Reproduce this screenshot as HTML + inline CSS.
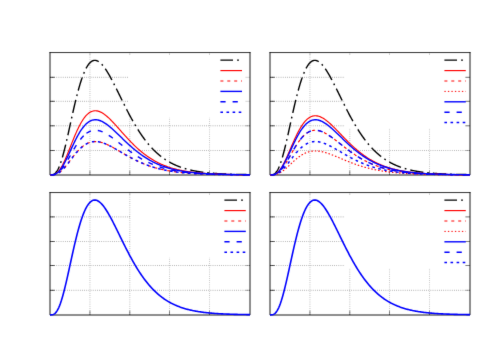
<!DOCTYPE html>
<html><head><meta charset="utf-8"><title>plot</title>
<style>html,body{margin:0;padding:0;background:#fff;font-family:"Liberation Sans",sans-serif}svg{display:block}</style>
</head><body>
<svg width="500" height="350" viewBox="0 0 500 350">
<defs><filter id="b" x="0" y="0" width="500" height="350" filterUnits="userSpaceOnUse" color-interpolation-filters="sRGB"><feConvolveMatrix order="3" kernelMatrix="0.0064 0.0672 0.0064 0.0672 0.7056 0.0672 0.0064 0.0672 0.0064" edgeMode="duplicate" preserveAlpha="true"/></filter></defs>
<g filter="url(#b)">
<rect width="500" height="350" fill="#fff"/>
<g><line x1="89.95" y1="52.5" x2="89.95" y2="175.0" stroke="#000" stroke-width="0.72" stroke-dasharray="0.72 1.42" opacity="0.46"/>
<line x1="129.80" y1="52.5" x2="129.80" y2="175.0" stroke="#000" stroke-width="0.72" stroke-dasharray="0.72 1.42" opacity="0.46"/>
<line x1="169.40" y1="52.5" x2="169.40" y2="175.0" stroke="#000" stroke-width="0.72" stroke-dasharray="0.72 1.42" opacity="0.46"/>
<line x1="209.40" y1="52.5" x2="209.40" y2="175.0" stroke="#000" stroke-width="0.72" stroke-dasharray="0.72 1.42" opacity="0.46"/>
<line x1="50.0" y1="150.40" x2="250.0" y2="150.40" stroke="#000" stroke-width="0.72" stroke-dasharray="0.72 1.42" opacity="0.58"/>
<line x1="50.0" y1="125.80" x2="250.0" y2="125.80" stroke="#000" stroke-width="0.72" stroke-dasharray="0.72 1.42" opacity="0.58"/>
<line x1="50.0" y1="101.30" x2="250.0" y2="101.30" stroke="#000" stroke-width="0.72" stroke-dasharray="0.72 1.42" opacity="0.58"/>
<line x1="50.0" y1="77.30" x2="250.0" y2="77.30" stroke="#000" stroke-width="0.72" stroke-dasharray="0.72 1.42" opacity="0.58"/>
<rect x="128.0" y="52.5" width="122.00" height="65.10" fill="#fff"/>
<line x1="89.95" y1="175.0" x2="89.95" y2="170.7" stroke="#000" stroke-width="0.8" opacity="0.6"/>
<line x1="89.95" y1="53.4" x2="89.95" y2="54.8" stroke="#000" stroke-width="0.8" opacity="0.35"/>
<line x1="129.80" y1="175.0" x2="129.80" y2="170.7" stroke="#000" stroke-width="0.8" opacity="0.6"/>
<line x1="129.80" y1="53.4" x2="129.80" y2="54.8" stroke="#000" stroke-width="0.8" opacity="0.35"/>
<line x1="169.40" y1="175.0" x2="169.40" y2="170.7" stroke="#000" stroke-width="0.8" opacity="0.6"/>
<line x1="169.40" y1="53.4" x2="169.40" y2="54.8" stroke="#000" stroke-width="0.8" opacity="0.35"/>
<line x1="209.40" y1="175.0" x2="209.40" y2="170.7" stroke="#000" stroke-width="0.8" opacity="0.6"/>
<line x1="209.40" y1="53.4" x2="209.40" y2="54.8" stroke="#000" stroke-width="0.8" opacity="0.35"/>
<line x1="50.0" y1="150.40" x2="54.6" y2="150.40" stroke="#000" stroke-width="0.8" opacity="0.9"/>
<line x1="250.0" y1="150.40" x2="245.4" y2="150.40" stroke="#000" stroke-width="0.8" opacity="0.4"/>
<line x1="50.0" y1="125.80" x2="54.6" y2="125.80" stroke="#000" stroke-width="0.8" opacity="0.9"/>
<line x1="250.0" y1="125.80" x2="245.4" y2="125.80" stroke="#000" stroke-width="0.8" opacity="0.4"/>
<line x1="50.0" y1="101.30" x2="54.6" y2="101.30" stroke="#000" stroke-width="0.8" opacity="0.9"/>
<line x1="250.0" y1="101.30" x2="245.4" y2="101.30" stroke="#000" stroke-width="0.8" opacity="0.21"/>
<line x1="50.0" y1="77.30" x2="54.6" y2="77.30" stroke="#000" stroke-width="0.8" opacity="0.9"/>
<line x1="250.0" y1="77.30" x2="245.4" y2="77.30" stroke="#000" stroke-width="0.8" opacity="0.21"/>
<path d="M50.0,52.15V175.0H250.0V52.15" fill="none" stroke="#000" stroke-width="0.9"/>
<line x1="49.5" y1="52.55" x2="250.5" y2="52.55" stroke="#000" stroke-width="0.8"/>
<path d="M50.25,174.85L50.28,174.85L50.68,174.85L51.08,174.84L51.48,174.82L51.88,174.79L52.28,174.73L52.68,174.65L53.08,174.54L53.48,174.39L53.88,174.2L54.28,173.97L54.68,173.69L55.08,173.36L55.48,172.98L55.88,172.55L56.28,172.06L56.68,171.51L57.08,170.9L57.48,170.24L57.88,169.51L58.28,168.73L58.68,167.88L59.08,166.97L59.24,166.59M60.65,162.85L60.65,162.85L61.05,161.66L61.19,161.24M62.36,157.41L62.38,157.37L62.78,155.97L63.18,154.53L63.58,153.04L63.98,151.52L64.38,149.96L64.78,148.36L65.18,146.74L65.58,145.08L65.68,144.64M66.59,140.74L66.6,140.71L66.97,139.09M67.85,135.19L67.88,135.09L68.28,133.3L68.68,131.49L69.08,129.68L69.48,127.86L69.88,126.03L70.28,124.21L70.68,122.38L70.69,122.3M71.55,118.39L71.58,118.29L71.92,116.73M72.79,112.82L72.8,112.78L73.2,111.01L73.6,109.25L74,107.51L74.4,105.78L74.8,104.08L75.2,102.39L75.6,100.73L75.81,99.87M76.78,95.99L76.8,95.9L77.2,94.34M78.22,90.48L78.23,90.47L78.63,89.02L79.03,87.6L79.43,86.21L79.83,84.86L80.23,83.54L80.63,82.25L81.03,81L81.43,79.79L81.83,78.61L82.23,77.46L82.25,77.39M83.67,73.65L83.68,73.63L84.08,72.66L84.32,72.08M86.03,68.46L86.05,68.43L86.45,67.68L86.85,66.98L87.25,66.31L87.65,65.68L88.05,65.08L88.45,64.52L88.85,64L89.25,63.52L89.65,63.07L90.05,62.66L90.45,62.28L90.85,61.94L91.25,61.63L91.65,61.36L92.05,61.12L92.45,60.91L92.85,60.74L93.25,60.6L93.65,60.49L94.05,60.41L94.45,60.37L94.85,60.35L95.25,60.36L95.65,60.41L96.05,60.48L96.45,60.58L96.85,60.71L97.25,60.86L97.65,61.04L98.05,61.25L98.45,61.48L98.72,61.65M101.74,64.27L101.75,64.28L102.15,64.72L102.55,65.18L102.86,65.55M105.26,68.74L105.28,68.76L105.68,69.34L106.08,69.95L106.48,70.56L106.88,71.19L107.28,71.83L107.68,72.49L108.08,73.15L108.48,73.83L108.88,74.51L109.28,75.21L109.68,75.92L110.08,76.63L110.48,77.36L110.88,78.09L111.28,78.83L111.68,79.58L111.91,80.02M113.75,83.57L113.78,83.61L114.18,84.4L114.52,85.09M116.32,88.66L116.33,88.68L116.73,89.49L117.13,90.3L117.53,91.11L117.93,91.92L118.33,92.73L118.73,93.55L119.13,94.36L119.53,95.18L119.93,95.99L120.33,96.81L120.73,97.62L121.13,98.44L121.53,99.25L121.93,100.06L122.15,100.51M123.92,104.09L123.93,104.09L124.33,104.89L124.69,105.61M126.49,109.18L126.5,109.19L126.9,109.97L127.3,110.74L127.7,111.52L128.1,112.28L128.5,113.05L128.9,113.8L129.3,114.56L129.7,115.31L130.1,116.05L130.5,116.8L130.9,117.53L131.3,118.26L131.7,118.99L132.1,119.71L132.5,120.42L132.87,121.08M134.87,124.54L134.88,124.56L135.28,125.23L135.68,125.91L135.73,126M137.82,129.41L137.83,129.41L138.23,130.05L138.63,130.68L139.03,131.3L139.43,131.91L139.83,132.52L140.23,133.13L140.63,133.72L141.03,134.31L141.43,134.9L141.83,135.48L142.23,136.05L142.63,136.62L143.03,137.18L143.43,137.73L143.83,138.28L144.23,138.82L144.63,139.36L145.03,139.89L145.38,140.35M147.87,143.49L147.88,143.5L148.28,143.98L148.68,144.45L148.96,144.79M151.62,147.78L151.63,147.79L152.03,148.21L152.43,148.64L152.83,149.05L153.23,149.47L153.63,149.87L154.03,150.27L154.43,150.67L154.83,151.06L155.23,151.44L155.63,151.82L156.03,152.2L156.43,152.57L156.83,152.93L157.23,153.29L157.63,153.65L158.03,153.99L158.43,154.34L158.83,154.68L159.23,155.01L159.63,155.34L160.03,155.67L160.43,155.99L160.83,156.31L161.17,156.57M164.4,158.93L164.4,158.93L164.8,159.21L165.2,159.47L165.6,159.74L165.81,159.88M169.23,161.96L169.25,161.97L169.65,162.2L170.05,162.42L170.45,162.64L170.85,162.86L171.25,163.07L171.65,163.28L172.05,163.48L172.45,163.68L172.85,163.88L173.25,164.08L173.65,164.27L174.05,164.46L174.45,164.65L174.85,164.83L175.25,165.01L175.65,165.19L176.05,165.36L176.45,165.53L176.85,165.7L177.25,165.87L177.65,166.03L178.05,166.19L178.45,166.35L178.85,166.51L179.25,166.66L179.65,166.81L180.05,166.96L180.45,167.1L180.85,167.24L180.96,167.28M184.76,168.52L184.78,168.52L185.18,168.64L185.58,168.75L185.98,168.87L186.38,168.98L186.4,168.99M190.27,169.98L190.28,169.98L190.68,170.07L191.08,170.16L191.48,170.25L191.88,170.34L192.28,170.42L192.68,170.51L193.08,170.59L193.48,170.67L193.88,170.75L194.28,170.83L194.68,170.91L195.08,170.98L195.48,171.06L195.88,171.13L196.28,171.2L196.68,171.27L197.08,171.34L197.48,171.41L197.88,171.48L198.28,171.54L198.68,171.61L199.08,171.67L199.48,171.73L199.88,171.79L200.28,171.85L200.68,171.91L201.08,171.97L201.48,172.03L201.88,172.08L202.28,172.14L202.68,172.19L203.08,172.24L203.27,172.27M207.24,172.73L207.25,172.73L207.65,172.77L208.05,172.82L208.45,172.86L208.85,172.9L208.93,172.9M212.91,173.26L212.93,173.26L213.33,173.29L213.73,173.32L214.13,173.35L214.53,173.38L214.93,173.41L215.33,173.44L215.73,173.47L216.13,173.5L216.53,173.53L216.93,173.55L217.33,173.58L217.73,173.61L218.13,173.63L218.53,173.66L218.93,173.68L219.33,173.7L219.73,173.73L220.13,173.75L220.53,173.77L220.93,173.79L221.33,173.82L221.73,173.84L222.13,173.86L222.53,173.88L222.93,173.9L223.33,173.92L223.73,173.94L224.13,173.96L224.53,173.97L224.93,173.99L225.33,174.01L225.73,174.03L226.09,174.04M230.09,174.2L230.1,174.2L230.5,174.21L230.9,174.22L231.3,174.24L231.7,174.25L231.79,174.25M235.78,174.37L235.8,174.37L236.2,174.38L236.6,174.39L237,174.4L237.4,174.4L237.8,174.41L238.2,174.42L238.6,174.43L239,174.44L239.4,174.45L239.8,174.46L240.2,174.47L240.6,174.47L241,174.48L241.4,174.49L241.8,174.5L242.2,174.51L242.6,174.51L243,174.52L243.4,174.53L243.8,174.53L244.2,174.54L244.6,174.55L245,174.55L245.4,174.56L245.8,174.57L246.2,174.57L246.6,174.58L247,174.58L247.4,174.59L247.8,174.59L248.2,174.6L248.6,174.61L248.98,174.61" fill="none" stroke="#000" stroke-width="1.4" stroke-linejoin="round"/>
<path d="M50,174.85L50.8,174.85L51.6,174.83L52.4,174.77L53.2,174.66L54,174.46L54.8,174.17L55.6,173.77L56.4,173.24L57.2,172.59L58,171.81L58.8,170.9L59.6,169.86L60.4,168.69L61.2,167.4L62,165.99L62.8,164.48L63.6,162.87L64.4,161.17L65.2,159.4L66,157.55L66.8,155.65L67.6,153.71L68.4,151.73L69.2,149.72L70,147.7L70.8,145.68L71.6,143.66L72.4,141.66L73.2,139.67L74,137.72L74.8,135.81L75.6,133.94L76.4,132.12L77.2,130.36L78,128.65L78.8,127.02L79.6,125.45L80.4,123.96L81.2,122.54L82,121.2L82.8,119.94L83.6,118.76L84.4,117.66L85.2,116.65L86,115.71L86.8,114.87L87.6,114.1L88.4,113.42L89.2,112.82L90,112.3L90.8,111.86L91.6,111.49L92.4,111.2L93.2,110.98L94,110.84L94.8,110.76L95.6,110.75L96.4,110.81L97.2,110.93L98,111.11L98.8,111.34L99.6,111.63L100.4,111.97L101.2,112.36L102,112.8L102.8,113.28L103.6,113.8L104.4,114.37L105.2,114.97L106,115.6L106.8,116.27L107.6,116.96L108.4,117.69L109.2,118.43L110,119.2L110.8,120L111.6,120.81L112.4,121.64L113.2,122.48L114,123.33L114.8,124.2L115.6,125.08L116.4,125.96L117.2,126.85L118,127.75L118.8,128.65L119.6,129.55L120.4,130.46L121.2,131.36L122,132.26L122.8,133.16L123.6,134.06L124.4,134.95L125.2,135.84L126,136.72L126.8,137.59L127.6,138.46L128.4,139.32L129.2,140.17L130,141.01L130.8,141.84L131.6,142.66L132.4,143.47L133.2,144.26L134,145.05L134.8,145.82L135.6,146.59L136.4,147.34L137.2,148.07L138,148.8L138.8,149.51L139.6,150.2L140.4,150.89L141.2,151.56L142,152.22L142.8,152.86L143.6,153.49L144.4,154.11L145.2,154.71L146,155.3L146.8,155.88L147.6,156.45L148.4,157L149.2,157.53L150,158.06L150.8,158.57L151.6,159.07L152.4,159.56L153.2,160.04L154,160.5L154.8,160.95L155.6,161.39L156.4,161.82L157.2,162.23L158,162.64L158.8,163.03L159.6,163.42L160.4,163.79L161.2,164.15L162,164.5L162.8,164.84L163.6,165.18L164.4,165.5L165.2,165.81L166,166.12L166.8,166.41L167.6,166.7L168.4,166.97L169.2,167.24L170,167.5L170.8,167.76L171.6,168L172.4,168.24L173.2,168.47L174,168.69L174.8,168.91L175.6,169.12L176.4,169.32L177.2,169.52L178,169.7L178.8,169.89L179.6,170.07L180.4,170.24L181.2,170.4L182,170.56L182.8,170.72L183.6,170.87L184.4,171.01L185.2,171.15L186,171.29L186.8,171.42L187.6,171.54L188.4,171.67L189.2,171.78L190,171.9L190.8,172.01L191.6,172.11L192.4,172.22L193.2,172.31L194,172.41L194.8,172.5L195.6,172.59L196.4,172.67L197.2,172.76L198,172.84L198.8,172.91L199.6,172.99L200.4,173.06L201.2,173.13L202,173.19L202.8,173.26L203.6,173.32L204.4,173.38L205.2,173.43L206,173.49L206.8,173.54L207.6,173.59L208.4,173.64L209.2,173.69L210,173.73L210.8,173.78L211.6,173.82L212.4,173.86L213.2,173.9L214,173.94L214.8,173.97L215.6,174.01L216.4,174.04L217.2,174.07L218,174.1L218.8,174.13L219.6,174.16L220.4,174.19L221.2,174.22L222,174.24L222.8,174.26L223.6,174.29L224.4,174.31L225.2,174.33L226,174.35L226.8,174.37L227.6,174.39L228.4,174.41L229.2,174.43L230,174.45L230.8,174.46L231.6,174.48L232.4,174.49L233.2,174.51L234,174.52L234.8,174.54L235.6,174.55L236.4,174.56L237.2,174.57L238,174.58L238.8,174.59L239.6,174.61L240.4,174.62L241.2,174.63L242,174.63L242.8,174.64L243.6,174.65L244.4,174.66L245.2,174.67L246,174.68L246.8,174.68L247.6,174.69L248.4,174.7L249.2,174.7L250,174.71" fill="none" stroke="#f00" stroke-width="1.15" stroke-linejoin="round"/>
<path d="M53,174.77L53,174.77L53.4,174.73L53.8,174.68L54.2,174.61L54.6,174.54L55,174.45L55.4,174.34L55.8,174.22L55.93,174.18M59.22,172.52L59.23,172.52L59.63,172.24L60.03,171.94L60.43,171.63L60.83,171.3L61.23,170.96L61.57,170.65M64.16,168.01L64.18,168L64.58,167.55L64.98,167.08L65.38,166.61L65.78,166.14L66.11,165.73M68.41,162.83L68.43,162.8L68.83,162.29L69.23,161.76L69.63,161.24L70.03,160.71L70.23,160.45M72.48,157.51L72.5,157.48L72.9,156.96L73.3,156.45L73.7,155.94L74.1,155.44L74.33,155.15M76.7,152.31L76.7,152.3L77.1,151.85L77.5,151.4L77.9,150.96L78.3,150.53L78.7,150.11L78.72,150.09M81.38,147.52L81.4,147.5L81.8,147.15L82.2,146.81L82.6,146.48L83,146.17L83.4,145.86L83.71,145.63M86.84,143.67L86.85,143.66L87.25,143.46L87.65,143.27L88.05,143.09L88.45,142.92L88.85,142.76L89.25,142.61L89.59,142.49M93.2,141.67L93.2,141.67L93.6,141.63L94,141.6L94.4,141.57L94.8,141.56L95.2,141.55L95.6,141.55L96,141.56L96.19,141.57M99.85,142.06L99.88,142.06L100.28,142.15L100.68,142.25L101.08,142.35L101.48,142.46L101.88,142.58L102.28,142.7L102.68,142.82L102.75,142.85M106.21,144.16L106.23,144.17L106.63,144.34L107.03,144.52L107.43,144.7L107.83,144.88L108.23,145.07L108.63,145.26L108.93,145.41M112.22,147.11L112.23,147.11L112.63,147.33L113.03,147.55L113.43,147.77L113.83,147.99L114.23,148.21L114.63,148.44L114.84,148.56M118.05,150.41L118.05,150.41L118.45,150.65L118.85,150.88L119.25,151.11L119.65,151.35L120.05,151.58L120.45,151.82L120.64,151.93M123.83,153.79L123.85,153.8L124.25,154.04L124.65,154.27L125.05,154.5L125.45,154.73L125.85,154.96L126.25,155.18L126.43,155.29M129.67,157.09L129.68,157.09L130.08,157.31L130.48,157.53L130.88,157.74L131.28,157.95L131.68,158.17L132.08,158.38L132.31,158.5M135.61,160.17L135.63,160.18L136.03,160.37L136.43,160.57L136.83,160.76L137.23,160.95L137.63,161.14L138.03,161.33L138.32,161.46M141.7,162.97L141.73,162.98L142.13,163.14L142.53,163.31L142.93,163.48L143.33,163.64L143.73,163.8L144.13,163.97L144.48,164.11M147.94,165.41L147.95,165.41L148.35,165.56L148.75,165.7L149.15,165.84L149.55,165.97L149.95,166.11L150.35,166.24L150.75,166.38L150.78,166.39M154.31,167.49L154.33,167.49L154.73,167.61L155.13,167.72L155.53,167.84L155.93,167.95L156.33,168.06L156.73,168.17L157.13,168.28L157.2,168.29M160.79,169.19L160.8,169.2L161.2,169.29L161.6,169.38L162,169.47L162.4,169.56L162.8,169.65L163.2,169.74L163.6,169.82L163.71,169.85M167.34,170.57L167.35,170.57L167.75,170.64L168.15,170.71L168.55,170.79L168.95,170.86L169.35,170.92L169.75,170.99L170.15,171.06L170.3,171.08M173.96,171.64L173.98,171.65L174.38,171.7L174.78,171.76L175.18,171.81L175.58,171.87L175.98,171.92L176.38,171.97L176.78,172.02L176.93,172.04M180.6,172.48L180.63,172.48L181.03,172.52L181.43,172.56L181.83,172.6L182.23,172.65L182.63,172.69L183.03,172.73L183.43,172.76L183.59,172.78M187.27,173.11L187.28,173.11L187.68,173.14L188.08,173.17L188.48,173.2L188.88,173.23L189.28,173.26L189.68,173.29L190.08,173.32L190.26,173.34M193.96,173.58L193.98,173.58L194.38,173.6L194.78,173.63L195.18,173.65L195.58,173.67L195.98,173.7L196.38,173.72L196.78,173.74L196.95,173.75M200.65,173.93L200.65,173.93L201.05,173.95L201.45,173.97L201.85,173.98L202.25,174L202.65,174.02L203.05,174.03L203.45,174.05L203.64,174.06M207.34,174.19L207.35,174.19L207.75,174.2L208.15,174.21L208.55,174.23L208.95,174.24L209.35,174.25L209.75,174.26L210.15,174.27L210.34,174.28M214.04,174.38L214.05,174.38L214.45,174.39L214.85,174.39L215.25,174.4L215.65,174.41L216.05,174.42L216.45,174.43L216.85,174.44L217.04,174.44M220.74,174.51L220.75,174.51L221.15,174.52L221.55,174.53L221.95,174.53L222.35,174.54L222.75,174.55L223.15,174.55L223.55,174.56L223.74,174.56M227.44,174.61L227.45,174.61L227.85,174.62L228.25,174.62L228.65,174.62L229.05,174.63L229.45,174.63L229.85,174.64L230.25,174.64L230.44,174.64M234.14,174.68L234.15,174.68L234.55,174.68L234.95,174.69L235.35,174.69L235.75,174.69L236.15,174.7L236.55,174.7L236.95,174.7L237.14,174.71M240.84,174.73L240.85,174.73L241.25,174.73L241.65,174.74L242.05,174.74L242.45,174.74L242.85,174.74L243.25,174.75L243.65,174.75L243.84,174.75M247.54,174.77L247.55,174.77L247.95,174.77L248.35,174.77L248.75,174.77L249.15,174.77L249.55,174.77L249.95,174.78L250,174.78" fill="none" stroke="#f00" stroke-width="1.15" stroke-linejoin="round"/>
<path d="M50,174.85L50.8,174.85L51.6,174.83L52.4,174.78L53.2,174.68L54,174.52L54.8,174.27L55.6,173.92L56.4,173.48L57.2,172.92L58,172.25L58.8,171.47L59.6,170.58L60.4,169.58L61.2,168.48L62,167.27L62.8,165.98L63.6,164.6L64.4,163.14L65.2,161.62L66,160.04L66.8,158.42L67.6,156.75L68.4,155.05L69.2,153.33L70,151.6L70.8,149.86L71.6,148.13L72.4,146.41L73.2,144.71L74,143.03L74.8,141.39L75.6,139.78L76.4,138.22L77.2,136.7L78,135.24L78.8,133.83L79.6,132.48L80.4,131.2L81.2,129.97L82,128.82L82.8,127.73L83.6,126.71L84.4,125.77L85.2,124.89L86,124.09L86.8,123.35L87.6,122.69L88.4,122.1L89.2,121.58L90,121.12L90.8,120.74L91.6,120.42L92.4,120.16L93.2,119.97L94,119.84L94.8,119.77L95.6,119.75L96.4,119.79L97.2,119.89L98,120.03L98.8,120.23L99.6,120.47L100.4,120.76L101.2,121.09L102,121.46L102.8,121.87L103.6,122.31L104.4,122.79L105.2,123.3L106,123.84L106.8,124.41L107.6,125L108.4,125.62L109.2,126.26L110,126.92L110.8,127.6L111.6,128.29L112.4,129L113.2,129.72L114,130.45L114.8,131.19L115.6,131.94L116.4,132.7L117.2,133.47L118,134.24L118.8,135.01L119.6,135.78L120.4,136.56L121.2,137.33L122,138.11L122.8,138.88L123.6,139.65L124.4,140.42L125.2,141.18L126,141.93L126.8,142.68L127.6,143.43L128.4,144.17L129.2,144.9L130,145.62L130.8,146.33L131.6,147.04L132.4,147.73L133.2,148.42L134,149.1L134.8,149.76L135.6,150.42L136.4,151.06L137.2,151.7L138,152.32L138.8,152.93L139.6,153.53L140.4,154.12L141.2,154.7L142,155.27L142.8,155.82L143.6,156.37L144.4,156.9L145.2,157.42L146,157.93L146.8,158.43L147.6,158.91L148.4,159.39L149.2,159.85L150,160.31L150.8,160.75L151.6,161.18L152.4,161.6L153.2,162.01L154,162.41L154.8,162.8L155.6,163.18L156.4,163.55L157.2,163.91L158,164.26L158.8,164.6L159.6,164.93L160.4,165.26L161.2,165.57L162,165.87L162.8,166.17L163.6,166.46L164.4,166.74L165.2,167.01L166,167.27L166.8,167.52L167.6,167.77L168.4,168.01L169.2,168.24L170,168.47L170.8,168.69L171.6,168.9L172.4,169.11L173.2,169.31L174,169.5L174.8,169.69L175.6,169.87L176.4,170.04L177.2,170.21L178,170.38L178.8,170.54L179.6,170.69L180.4,170.84L181.2,170.98L182,171.12L182.8,171.26L183.6,171.39L184.4,171.51L185.2,171.63L186,171.75L186.8,171.86L187.6,171.97L188.4,172.08L189.2,172.18L190,172.28L190.8,172.37L191.6,172.47L192.4,172.55L193.2,172.64L194,172.72L194.8,172.8L195.6,172.88L196.4,172.95L197.2,173.03L198,173.09L198.8,173.16L199.6,173.23L200.4,173.29L201.2,173.35L202,173.4L202.8,173.46L203.6,173.51L204.4,173.56L205.2,173.61L206,173.66L206.8,173.71L207.6,173.75L208.4,173.79L209.2,173.84L210,173.87L210.8,173.91L211.6,173.95L212.4,173.98L213.2,174.02L214,174.05L214.8,174.08L215.6,174.11L216.4,174.14L217.2,174.17L218,174.2L218.8,174.22L219.6,174.25L220.4,174.27L221.2,174.29L222,174.32L222.8,174.34L223.6,174.36L224.4,174.38L225.2,174.4L226,174.42L226.8,174.43L227.6,174.45L228.4,174.47L229.2,174.48L230,174.5L230.8,174.51L231.6,174.52L232.4,174.54L233.2,174.55L234,174.56L234.8,174.57L235.6,174.59L236.4,174.6L237.2,174.61L238,174.62L238.8,174.63L239.6,174.64L240.4,174.64L241.2,174.65L242,174.66L242.8,174.67L243.6,174.68L244.4,174.68L245.2,174.69L246,174.7L246.8,174.7L247.6,174.71L248.4,174.72L249.2,174.72L250,174.73" fill="none" stroke="#00f" stroke-width="1.4" stroke-linejoin="round"/>
<path d="M51.1,174.85L51.1,174.85L51.5,174.84L51.9,174.83L52.3,174.8L52.7,174.77L53.1,174.73L53.5,174.67L53.9,174.6L54.3,174.51L54.7,174.4L55.1,174.28L55.5,174.13L55.9,173.97L55.98,173.93M61.26,169.59L61.28,169.58L61.68,169.09L62.08,168.59L62.48,168.07L62.88,167.53L63.28,166.98L63.68,166.41L64.08,165.82L64.24,165.57M67.86,159.7L67.88,159.67L68.28,158.98L68.68,158.28L69.08,157.58L69.48,156.88L69.88,156.18L70.28,155.48L70.34,155.36M73.78,149.38L73.8,149.35L74.2,148.68L74.6,148.02L75,147.36L75.4,146.71L75.8,146.06L76.2,145.43L76.4,145.12M80.37,139.48L80.38,139.47L80.78,138.97L81.18,138.48L81.58,138.01L81.98,137.55L82.38,137.1L82.78,136.67L83.18,136.25L83.58,135.85L83.68,135.74M86.49,133.34L86.5,133.33L86.9,133.05L87.3,132.78L87.7,132.52L88.1,132.28L88.5,132.05L88.9,131.84L89.3,131.64L89.7,131.46L90.1,131.29L90.5,131.13L90.88,130.99M97.82,130.47L97.83,130.47L98.23,130.54L98.63,130.62L99.03,130.71L99.43,130.81L99.83,130.92L100.23,131.04L100.63,131.17L101.03,131.31L101.43,131.45L101.83,131.61L102.23,131.77L102.59,131.92M108.75,135.3L108.75,135.3L109.15,135.56L109.55,135.83L109.95,136.1L110.35,136.37L110.75,136.65L111.15,136.93L111.55,137.21L111.95,137.5L112.35,137.79L112.75,138.08L112.85,138.15M118.44,142.42L118.45,142.43L118.85,142.75L119.25,143.06L119.65,143.37L120.05,143.69L120.45,144L120.85,144.32L121.25,144.63L121.65,144.94L122.05,145.26L122.37,145.51M127.95,149.79L127.95,149.79L128.35,150.09L128.75,150.39L129.15,150.68L129.55,150.98L129.95,151.27L130.35,151.56L130.75,151.85L131.15,152.13L131.55,152.42L131.95,152.7L131.99,152.73M137.84,156.62L137.85,156.63L138.25,156.88L138.65,157.12L139.05,157.37L139.45,157.61L139.85,157.85L140.25,158.09L140.65,158.32L141.05,158.56L141.45,158.79L141.85,159.02L142.14,159.18M148.38,162.42L148.4,162.43L148.8,162.62L149.2,162.8L149.6,162.99L150,163.17L150.4,163.35L150.8,163.52L151.2,163.7L151.6,163.87L152,164.04L152.4,164.21L152.8,164.38L152.95,164.44M159.54,166.88L159.55,166.88L159.95,167.01L160.35,167.14L160.75,167.26L161.15,167.39L161.55,167.51L161.95,167.64L162.35,167.76L162.75,167.87L163.15,167.99L163.55,168.11L163.95,168.22L164.33,168.32M171.16,169.99L171.18,170L171.58,170.08L171.98,170.16L172.38,170.25L172.78,170.33L173.18,170.41L173.58,170.48L173.98,170.56L174.38,170.64L174.78,170.71L175.18,170.78L175.58,170.86L175.98,170.93L176.06,170.94M183.01,172L183.03,172L183.43,172.06L183.83,172.11L184.23,172.16L184.63,172.21L185.03,172.26L185.43,172.3L185.83,172.35L186.23,172.4L186.63,172.44L187.03,172.49L187.43,172.53L187.83,172.57L187.98,172.59M194.98,173.23L195,173.23L195.4,173.26L195.8,173.29L196.2,173.32L196.6,173.35L197,173.38L197.4,173.41L197.8,173.44L198.2,173.46L198.6,173.49L199,173.51L199.4,173.54L199.8,173.57L199.97,173.58M206.99,173.95L207,173.95L207.4,173.97L207.8,173.98L208.2,174L208.6,174.02L209,174.03L209.4,174.05L209.8,174.07L210.2,174.08L210.6,174.1L211,174.11L211.4,174.13L211.8,174.14L211.98,174.15M219.01,174.36L219.03,174.36L219.43,174.37L219.83,174.38L220.23,174.39L220.63,174.4L221.03,174.4L221.43,174.41L221.83,174.42L222.23,174.43L222.63,174.44L223.03,174.45L223.43,174.46L223.83,174.46L224.01,174.47M231.04,174.58L231.05,174.58L231.45,174.59L231.85,174.59L232.25,174.6L232.65,174.61L233.05,174.61L233.45,174.62L233.85,174.62L234.25,174.62L234.65,174.63L235.05,174.63L235.45,174.64L235.85,174.64L236.04,174.64M243.07,174.71L243.08,174.71L243.48,174.71L243.88,174.71L244.28,174.72L244.68,174.72L245.08,174.72L245.48,174.73L245.88,174.73L246.28,174.73L246.68,174.73L247.08,174.74L247.48,174.74L247.88,174.74L248.07,174.74" fill="none" stroke="#00f" stroke-width="1.4" stroke-linejoin="round"/>
<path d="M52.5,174.8L52.5,174.8L52.9,174.78L53.3,174.74L53.7,174.69L54.1,174.63L54.5,174.56L54.9,174.47L55.07,174.43M58.72,172.85L58.73,172.85L59.13,172.59L59.53,172.31L59.93,172.02L60.33,171.71L60.73,171.38L60.82,171.31M63.69,168.53L63.7,168.52L64.1,168.08L64.5,167.63L64.9,167.17L65.3,166.7L65.41,166.58M67.92,163.46L67.93,163.45L68.33,162.93L68.73,162.42L69.13,161.89L69.5,161.4M71.93,158.22L71.95,158.19L72.35,157.67L72.75,157.15L73.15,156.64L73.52,156.17M76.05,153.07L76.05,153.06L76.45,152.59L76.85,152.13L77.25,151.68L77.65,151.23L77.76,151.11M80.56,148.26L80.58,148.25L80.98,147.88L81.38,147.52L81.78,147.17L82.18,146.83L82.52,146.55M85.79,144.25L85.8,144.25L86.2,144.02L86.6,143.79L87,143.59L87.4,143.39L87.8,143.2L88.1,143.06M91.91,141.87L91.93,141.87L92.33,141.8L92.73,141.73L93.13,141.68L93.53,141.64L93.93,141.6L94.33,141.58L94.49,141.57M97.91,141.72L97.93,141.72L98.33,141.78L98.73,141.84L99.13,141.91L99.53,141.99L99.93,142.08L100.33,142.17L100.47,142.2M103.75,143.19L103.78,143.2L104.18,143.34L104.58,143.5L104.98,143.65L105.38,143.81L105.78,143.98L106.17,144.14M109.28,145.58L109.3,145.59L109.7,145.79L110.1,145.99L110.5,146.2L110.9,146.41L111.3,146.62L111.59,146.77M114.6,148.42L114.6,148.42L115,148.65L115.4,148.88L115.8,149.11L116.2,149.34L116.6,149.57L116.86,149.72M119.82,151.45L119.83,151.45L120.23,151.69L120.63,151.92L121.03,152.16L121.43,152.39L121.83,152.62L122.06,152.76M125.03,154.48L125.05,154.5L125.45,154.73L125.85,154.96L126.25,155.18L126.65,155.41L127.05,155.64L127.29,155.77M130.29,157.43L130.3,157.43L130.7,157.65L131.1,157.86L131.5,158.07L131.9,158.28L132.3,158.49L132.59,158.64M135.65,160.19L135.65,160.19L136.05,160.39L136.45,160.58L136.85,160.77L137.25,160.96L137.65,161.15L137.99,161.31M141.12,162.72L141.13,162.72L141.53,162.89L141.93,163.06L142.33,163.23L142.73,163.4L143.13,163.56L143.52,163.72M146.72,164.97L146.73,164.97L147.13,165.12L147.53,165.26L147.93,165.41L148.33,165.55L148.73,165.69L149.13,165.83L149.16,165.84M152.42,166.91L152.43,166.91L152.83,167.04L153.23,167.16L153.63,167.28L154.03,167.4L154.43,167.52L154.83,167.64L154.91,167.66M158.22,168.56L158.23,168.56L158.63,168.67L159.03,168.77L159.43,168.87L159.83,168.96L160.23,169.06L160.63,169.16L160.75,169.19M164.1,169.93L164.1,169.93L164.5,170.01L164.9,170.09L165.3,170.17L165.7,170.25L166.1,170.33L166.5,170.41L166.65,170.44M170.02,171.04L170.03,171.04L170.43,171.1L170.83,171.17L171.23,171.23L171.63,171.3L172.03,171.36L172.43,171.42L172.59,171.44M175.99,171.92L176,171.92L176.4,171.98L176.8,172.03L177.2,172.08L177.6,172.13L178,172.18L178.4,172.22L178.57,172.24M181.98,172.62L182,172.62L182.4,172.66L182.8,172.7L183.2,172.74L183.6,172.78L184,172.82L184.4,172.86L184.56,172.87M187.98,173.16L188,173.16L188.4,173.2L188.8,173.23L189.2,173.26L189.6,173.29L190,173.32L190.4,173.34L190.57,173.36M194,173.58L194,173.58L194.4,173.61L194.8,173.63L195.2,173.65L195.6,173.68L196,173.7L196.4,173.72L196.59,173.73M200.02,173.9L200.03,173.9L200.43,173.92L200.83,173.94L201.23,173.96L201.63,173.97L202.03,173.99L202.43,174.01L202.62,174.01M206.04,174.14L206.05,174.14L206.45,174.16L206.85,174.17L207.25,174.18L207.65,174.2L208.05,174.21L208.45,174.22L208.64,174.23M212.07,174.33L212.08,174.33L212.48,174.34L212.88,174.35L213.28,174.36L213.68,174.37L214.08,174.38L214.48,174.39L214.67,174.39M218.1,174.46L218.1,174.46L218.5,174.47L218.9,174.48L219.3,174.49L219.7,174.49L220.1,174.5L220.5,174.51L220.7,174.51M224.13,174.57L224.15,174.57L224.55,174.57L224.95,174.58L225.35,174.58L225.75,174.59L226.15,174.59L226.55,174.6L226.73,174.6M230.16,174.64L230.18,174.64L230.58,174.65L230.98,174.65L231.38,174.65L231.78,174.66L232.18,174.66L232.58,174.67L232.76,174.67M236.19,174.7L236.2,174.7L236.6,174.7L237,174.7L237.4,174.71L237.8,174.71L238.2,174.71L238.6,174.72L238.79,174.72M242.22,174.74L242.23,174.74L242.63,174.74L243.03,174.74L243.43,174.75L243.83,174.75L244.23,174.75L244.63,174.75L244.82,174.75M248.25,174.77L248.25,174.77L248.65,174.77L249.05,174.77L249.45,174.77L249.85,174.78L250,174.78" fill="none" stroke="#00f" stroke-width="1.5" stroke-linejoin="round"/>
<line x1="220.4" y1="60.20" x2="242.0" y2="60.20" stroke="#000" stroke-width="1.3" stroke-dasharray="12.6 4.1 1.8 4.1"/>
<line x1="220.4" y1="70.60" x2="242.0" y2="70.60" stroke="#f00" stroke-width="1.15"/>
<line x1="220.4" y1="81.00" x2="242.0" y2="81.00" stroke="#f00" stroke-width="1.15" stroke-dasharray="3.0 3.9"/>
<line x1="220.4" y1="91.40" x2="242.0" y2="91.40" stroke="#00f" stroke-width="1.4"/>
<line x1="220.4" y1="101.80" x2="242.0" y2="101.80" stroke="#00f" stroke-width="1.4" stroke-dasharray="5.2 7.0"/>
<line x1="220.4" y1="112.20" x2="242.0" y2="112.20" stroke="#00f" stroke-width="1.5" stroke-dasharray="2.6 3.5"/></g>
<g><line x1="309.95" y1="52.5" x2="309.95" y2="175.0" stroke="#000" stroke-width="0.72" stroke-dasharray="0.72 1.42" opacity="0.46"/>
<line x1="349.80" y1="52.5" x2="349.80" y2="175.0" stroke="#000" stroke-width="0.72" stroke-dasharray="0.72 1.42" opacity="0.46"/>
<line x1="389.40" y1="52.5" x2="389.40" y2="175.0" stroke="#000" stroke-width="0.72" stroke-dasharray="0.72 1.42" opacity="0.46"/>
<line x1="429.40" y1="52.5" x2="429.40" y2="175.0" stroke="#000" stroke-width="0.72" stroke-dasharray="0.72 1.42" opacity="0.46"/>
<line x1="270.0" y1="150.40" x2="470.0" y2="150.40" stroke="#000" stroke-width="0.72" stroke-dasharray="0.72 1.42" opacity="0.58"/>
<line x1="270.0" y1="125.80" x2="470.0" y2="125.80" stroke="#000" stroke-width="0.72" stroke-dasharray="0.72 1.42" opacity="0.58"/>
<line x1="270.0" y1="101.30" x2="470.0" y2="101.30" stroke="#000" stroke-width="0.72" stroke-dasharray="0.72 1.42" opacity="0.58"/>
<line x1="270.0" y1="77.30" x2="470.0" y2="77.30" stroke="#000" stroke-width="0.72" stroke-dasharray="0.72 1.42" opacity="0.58"/>
<rect x="344.5" y="52.5" width="125.50" height="75.50" fill="#fff"/>
<line x1="309.95" y1="175.0" x2="309.95" y2="170.7" stroke="#000" stroke-width="0.8" opacity="0.6"/>
<line x1="309.95" y1="53.4" x2="309.95" y2="54.8" stroke="#000" stroke-width="0.8" opacity="0.35"/>
<line x1="349.80" y1="175.0" x2="349.80" y2="170.7" stroke="#000" stroke-width="0.8" opacity="0.6"/>
<line x1="349.80" y1="53.4" x2="349.80" y2="54.8" stroke="#000" stroke-width="0.8" opacity="0.35"/>
<line x1="389.40" y1="175.0" x2="389.40" y2="170.7" stroke="#000" stroke-width="0.8" opacity="0.6"/>
<line x1="389.40" y1="53.4" x2="389.40" y2="54.8" stroke="#000" stroke-width="0.8" opacity="0.35"/>
<line x1="429.40" y1="175.0" x2="429.40" y2="170.7" stroke="#000" stroke-width="0.8" opacity="0.6"/>
<line x1="429.40" y1="53.4" x2="429.40" y2="54.8" stroke="#000" stroke-width="0.8" opacity="0.35"/>
<line x1="270.0" y1="150.40" x2="274.6" y2="150.40" stroke="#000" stroke-width="0.8" opacity="0.9"/>
<line x1="470.0" y1="150.40" x2="465.4" y2="150.40" stroke="#000" stroke-width="0.8" opacity="0.4"/>
<line x1="270.0" y1="125.80" x2="274.6" y2="125.80" stroke="#000" stroke-width="0.8" opacity="0.9"/>
<line x1="470.0" y1="125.80" x2="465.4" y2="125.80" stroke="#000" stroke-width="0.8" opacity="0.7"/>
<line x1="270.0" y1="101.30" x2="274.6" y2="101.30" stroke="#000" stroke-width="0.8" opacity="0.9"/>
<line x1="470.0" y1="101.30" x2="465.4" y2="101.30" stroke="#000" stroke-width="0.8" opacity="0.7"/>
<line x1="270.0" y1="77.30" x2="274.6" y2="77.30" stroke="#000" stroke-width="0.8" opacity="0.9"/>
<line x1="470.0" y1="77.30" x2="465.4" y2="77.30" stroke="#000" stroke-width="0.8" opacity="0.7"/>
<path d="M270.0,52.15V175.0H470.0V52.15" fill="none" stroke="#000" stroke-width="0.9"/>
<line x1="269.5" y1="52.55" x2="470.5" y2="52.55" stroke="#000" stroke-width="0.8"/>
<path d="M270.25,174.85L270.28,174.85L270.68,174.85L271.08,174.84L271.48,174.82L271.88,174.79L272.28,174.73L272.68,174.65L273.08,174.54L273.48,174.39L273.88,174.2L274.28,173.97L274.68,173.69L275.08,173.36L275.48,172.98L275.88,172.55L276.28,172.06L276.68,171.51L277.08,170.9L277.48,170.24L277.88,169.51L278.28,168.73L278.68,167.88L279.08,166.97L279.24,166.59M280.65,162.85L280.65,162.85L281.05,161.66L281.19,161.24M282.36,157.41L282.38,157.37L282.78,155.97L283.18,154.53L283.58,153.04L283.98,151.52L284.38,149.96L284.78,148.36L285.18,146.74L285.58,145.08L285.68,144.64M286.59,140.74L286.6,140.71L286.97,139.09M287.85,135.19L287.88,135.09L288.28,133.3L288.68,131.49L289.08,129.68L289.48,127.86L289.88,126.03L290.28,124.21L290.68,122.38L290.69,122.3M291.55,118.39L291.58,118.29L291.92,116.73M292.79,112.82L292.8,112.78L293.2,111.01L293.6,109.25L294,107.51L294.4,105.78L294.8,104.08L295.2,102.39L295.6,100.73L295.81,99.87M296.78,95.99L296.8,95.9L297.2,94.34M298.22,90.48L298.23,90.47L298.63,89.02L299.03,87.6L299.43,86.21L299.83,84.86L300.23,83.54L300.63,82.25L301.03,81L301.43,79.79L301.83,78.61L302.23,77.46L302.25,77.39M303.67,73.65L303.68,73.63L304.08,72.66L304.32,72.08M306.03,68.46L306.05,68.43L306.45,67.68L306.85,66.98L307.25,66.31L307.65,65.68L308.05,65.08L308.45,64.52L308.85,64L309.25,63.52L309.65,63.07L310.05,62.66L310.45,62.28L310.85,61.94L311.25,61.63L311.65,61.36L312.05,61.12L312.45,60.91L312.85,60.74L313.25,60.6L313.65,60.49L314.05,60.41L314.45,60.37L314.85,60.35L315.25,60.36L315.65,60.41L316.05,60.48L316.45,60.58L316.85,60.71L317.25,60.86L317.65,61.04L318.05,61.25L318.45,61.48L318.72,61.65M321.74,64.27L321.75,64.28L322.15,64.72L322.55,65.18L322.86,65.55M325.26,68.74L325.28,68.76L325.68,69.34L326.08,69.95L326.48,70.56L326.88,71.19L327.28,71.83L327.68,72.49L328.08,73.15L328.48,73.83L328.88,74.51L329.28,75.21L329.68,75.92L330.08,76.63L330.48,77.36L330.88,78.09L331.28,78.83L331.68,79.58L331.91,80.02M333.75,83.57L333.78,83.61L334.18,84.4L334.52,85.09M336.32,88.66L336.33,88.68L336.73,89.49L337.13,90.3L337.53,91.11L337.93,91.92L338.33,92.73L338.73,93.55L339.13,94.36L339.53,95.18L339.93,95.99L340.33,96.81L340.73,97.62L341.13,98.44L341.53,99.25L341.93,100.06L342.15,100.51M343.92,104.09L343.93,104.09L344.33,104.89L344.69,105.61M346.49,109.18L346.5,109.19L346.9,109.97L347.3,110.74L347.7,111.52L348.1,112.28L348.5,113.05L348.9,113.8L349.3,114.56L349.7,115.31L350.1,116.05L350.5,116.8L350.9,117.53L351.3,118.26L351.7,118.99L352.1,119.71L352.5,120.42L352.87,121.08M354.87,124.54L354.88,124.56L355.28,125.23L355.68,125.91L355.73,126M357.82,129.41L357.83,129.41L358.23,130.05L358.63,130.68L359.03,131.3L359.43,131.91L359.83,132.52L360.23,133.13L360.63,133.72L361.03,134.31L361.43,134.9L361.83,135.48L362.23,136.05L362.63,136.62L363.03,137.18L363.43,137.73L363.83,138.28L364.23,138.82L364.63,139.36L365.03,139.89L365.38,140.35M367.87,143.49L367.88,143.5L368.28,143.98L368.68,144.45L368.96,144.79M371.62,147.78L371.63,147.79L372.03,148.21L372.43,148.64L372.83,149.05L373.23,149.47L373.63,149.87L374.03,150.27L374.43,150.67L374.83,151.06L375.23,151.44L375.63,151.82L376.03,152.2L376.43,152.57L376.83,152.93L377.23,153.29L377.63,153.65L378.03,153.99L378.43,154.34L378.83,154.68L379.23,155.01L379.63,155.34L380.03,155.67L380.43,155.99L380.83,156.31L381.17,156.57M384.4,158.93L384.4,158.93L384.8,159.21L385.2,159.47L385.6,159.74L385.81,159.88M389.23,161.96L389.25,161.97L389.65,162.2L390.05,162.42L390.45,162.64L390.85,162.86L391.25,163.07L391.65,163.28L392.05,163.48L392.45,163.68L392.85,163.88L393.25,164.08L393.65,164.27L394.05,164.46L394.45,164.65L394.85,164.83L395.25,165.01L395.65,165.19L396.05,165.36L396.45,165.53L396.85,165.7L397.25,165.87L397.65,166.03L398.05,166.19L398.45,166.35L398.85,166.51L399.25,166.66L399.65,166.81L400.05,166.96L400.45,167.1L400.85,167.24L400.96,167.28M404.76,168.52L404.78,168.52L405.18,168.64L405.58,168.75L405.98,168.87L406.38,168.98L406.4,168.99M410.27,169.98L410.28,169.98L410.68,170.07L411.08,170.16L411.48,170.25L411.88,170.34L412.28,170.42L412.68,170.51L413.08,170.59L413.48,170.67L413.88,170.75L414.28,170.83L414.68,170.91L415.08,170.98L415.48,171.06L415.88,171.13L416.28,171.2L416.68,171.27L417.08,171.34L417.48,171.41L417.88,171.48L418.28,171.54L418.68,171.61L419.08,171.67L419.48,171.73L419.88,171.79L420.28,171.85L420.68,171.91L421.08,171.97L421.48,172.03L421.88,172.08L422.28,172.14L422.68,172.19L423.08,172.24L423.27,172.27M427.24,172.73L427.25,172.73L427.65,172.77L428.05,172.82L428.45,172.86L428.85,172.9L428.93,172.9M432.91,173.26L432.93,173.26L433.33,173.29L433.73,173.32L434.13,173.35L434.53,173.38L434.93,173.41L435.33,173.44L435.73,173.47L436.13,173.5L436.53,173.53L436.93,173.55L437.33,173.58L437.73,173.61L438.13,173.63L438.53,173.66L438.93,173.68L439.33,173.7L439.73,173.73L440.13,173.75L440.53,173.77L440.93,173.79L441.33,173.82L441.73,173.84L442.13,173.86L442.53,173.88L442.93,173.9L443.33,173.92L443.73,173.94L444.13,173.96L444.53,173.97L444.93,173.99L445.33,174.01L445.73,174.03L446.09,174.04M450.09,174.2L450.1,174.2L450.5,174.21L450.9,174.22L451.3,174.24L451.7,174.25L451.79,174.25M455.78,174.37L455.8,174.37L456.2,174.38L456.6,174.39L457,174.4L457.4,174.4L457.8,174.41L458.2,174.42L458.6,174.43L459,174.44L459.4,174.45L459.8,174.46L460.2,174.47L460.6,174.47L461,174.48L461.4,174.49L461.8,174.5L462.2,174.51L462.6,174.51L463,174.52L463.4,174.53L463.8,174.53L464.2,174.54L464.6,174.55L465,174.55L465.4,174.56L465.8,174.57L466.2,174.57L466.6,174.58L467,174.58L467.4,174.59L467.8,174.59L468.2,174.6L468.6,174.61L468.98,174.61" fill="none" stroke="#000" stroke-width="1.4" stroke-linejoin="round"/>
<path d="M270,174.85L270.8,174.85L271.6,174.83L272.4,174.78L273.2,174.67L274,174.49L274.8,174.22L275.6,173.85L276.4,173.37L277.2,172.77L278,172.05L278.8,171.21L279.6,170.25L280.4,169.17L281.2,167.98L282,166.68L282.8,165.29L283.6,163.8L284.4,162.24L285.2,160.6L286,158.9L286.8,157.15L287.6,155.36L288.4,153.53L289.2,151.68L290,149.82L290.8,147.95L291.6,146.09L292.4,144.25L293.2,142.42L294,140.62L294.8,138.85L295.6,137.13L296.4,135.45L297.2,133.83L298,132.26L298.8,130.75L299.6,129.3L300.4,127.93L301.2,126.62L302,125.38L302.8,124.22L303.6,123.13L304.4,122.12L305.2,121.19L306,120.33L306.8,119.55L307.6,118.84L308.4,118.21L309.2,117.66L310,117.18L310.8,116.77L311.6,116.43L312.4,116.17L313.2,115.97L314,115.83L314.8,115.76L315.6,115.75L316.4,115.81L317.2,115.91L318,116.08L318.8,116.29L319.6,116.56L320.4,116.87L321.2,117.24L322,117.64L322.8,118.08L323.6,118.57L324.4,119.08L325.2,119.64L326,120.22L326.8,120.84L327.6,121.48L328.4,122.14L329.2,122.83L330,123.55L330.8,124.28L331.6,125.02L332.4,125.79L333.2,126.56L334,127.35L334.8,128.15L335.6,128.96L336.4,129.78L337.2,130.6L338,131.43L338.8,132.26L339.6,133.09L340.4,133.92L341.2,134.75L342,135.59L342.8,136.42L343.6,137.24L344.4,138.06L345.2,138.88L346,139.69L346.8,140.5L347.6,141.3L348.4,142.09L349.2,142.87L350,143.65L350.8,144.41L351.6,145.17L352.4,145.92L353.2,146.65L354,147.38L354.8,148.09L355.6,148.79L356.4,149.48L357.2,150.16L358,150.83L358.8,151.48L359.6,152.13L360.4,152.76L361.2,153.38L362,153.98L362.8,154.58L363.6,155.16L364.4,155.73L365.2,156.28L366,156.83L366.8,157.36L367.6,157.88L368.4,158.39L369.2,158.89L370,159.37L370.8,159.84L371.6,160.3L372.4,160.75L373.2,161.19L374,161.62L374.8,162.03L375.6,162.44L376.4,162.83L377.2,163.22L378,163.59L378.8,163.95L379.6,164.31L380.4,164.65L381.2,164.99L382,165.31L382.8,165.62L383.6,165.93L384.4,166.23L385.2,166.52L386,166.8L386.8,167.07L387.6,167.33L388.4,167.59L389.2,167.84L390,168.08L390.8,168.31L391.6,168.54L392.4,168.76L393.2,168.97L394,169.17L394.8,169.37L395.6,169.56L396.4,169.75L397.2,169.93L398,170.11L398.8,170.27L399.6,170.44L400.4,170.6L401.2,170.75L402,170.9L402.8,171.04L403.6,171.18L404.4,171.31L405.2,171.44L406,171.57L406.8,171.69L407.6,171.8L408.4,171.91L409.2,172.02L410,172.13L410.8,172.23L411.6,172.33L412.4,172.42L413.2,172.51L414,172.6L414.8,172.68L415.6,172.77L416.4,172.84L417.2,172.92L418,172.99L418.8,173.06L419.6,173.13L420.4,173.2L421.2,173.26L422,173.32L422.8,173.38L423.6,173.44L424.4,173.49L425.2,173.54L426,173.59L426.8,173.64L427.6,173.69L428.4,173.73L429.2,173.78L430,173.82L430.8,173.86L431.6,173.9L432.4,173.94L433.2,173.97L434,174.01L434.8,174.04L435.6,174.07L436.4,174.1L437.2,174.13L438,174.16L438.8,174.19L439.6,174.21L440.4,174.24L441.2,174.26L442,174.29L442.8,174.31L443.6,174.33L444.4,174.35L445.2,174.37L446,174.39L446.8,174.41L447.6,174.43L448.4,174.45L449.2,174.46L450,174.48L450.8,174.49L451.6,174.51L452.4,174.52L453.2,174.53L454,174.55L454.8,174.56L455.6,174.57L456.4,174.58L457.2,174.59L458,174.6L458.8,174.61L459.6,174.62L460.4,174.63L461.2,174.64L462,174.65L462.8,174.66L463.6,174.67L464.4,174.67L465.2,174.68L466,174.69L466.8,174.7L467.6,174.7L468.4,174.71L469.2,174.71L470,174.72" fill="none" stroke="#f00" stroke-width="1.15" stroke-linejoin="round"/>
<path d="M272.2,174.81L272.2,174.81L272.6,174.78L273,174.74L273.4,174.69L273.8,174.62L274.2,174.53L274.6,174.43L275,174.31L275.14,174.27M277.91,172.8L277.93,172.79L278.33,172.49L278.73,172.17L279.13,171.82L279.53,171.45L279.93,171.06L280.16,170.82M282.21,168.42L282.23,168.4L282.63,167.87L283.03,167.33L283.43,166.76L283.83,166.19L283.96,165.99M285.67,163.35L285.68,163.34L286.08,162.69L286.48,162.03L286.88,161.37L287.22,160.78M288.81,158.05L288.83,158.02L289.23,157.32L289.63,156.62L290.03,155.92L290.29,155.45M291.85,152.71L291.88,152.67L292.28,151.97L292.68,151.28L293.08,150.59L293.35,150.11M294.97,147.41L294.98,147.4L295.38,146.75L295.78,146.1L296.18,145.47L296.56,144.87M298.32,142.25L298.33,142.24L298.73,141.67L299.13,141.12L299.53,140.58L299.93,140.05L300.09,139.83M302.1,137.41L302.1,137.41L302.5,136.96L302.9,136.54L303.3,136.12L303.7,135.72L304.1,135.34L304.19,135.26M306.61,133.25L306.63,133.24L307.03,132.96L307.43,132.69L307.83,132.44L308.23,132.21L308.63,131.98L309.03,131.78L309.18,131.7M312.13,130.63L312.15,130.62L312.55,130.53L312.95,130.45L313.35,130.39L313.75,130.34L314.15,130.3L314.55,130.27L314.95,130.25L315.1,130.25M318.23,130.54L318.25,130.54L318.65,130.63L319.05,130.72L319.45,130.82L319.85,130.93L320.25,131.05L320.65,131.18L321.05,131.32L321.12,131.34M324.02,132.58L324.03,132.58L324.43,132.78L324.83,132.98L325.23,133.2L325.63,133.42L326.03,133.64L326.43,133.87L326.66,134M329.32,135.68L329.33,135.68L329.73,135.95L330.13,136.22L330.53,136.49L330.93,136.77L331.33,137.05L331.73,137.34L331.79,137.38M334.33,139.25L334.35,139.27L334.75,139.57L335.15,139.88L335.55,140.18L335.95,140.49L336.35,140.8L336.71,141.07M339.19,143.01L339.2,143.02L339.6,143.33L340,143.65L340.4,143.96L340.8,144.28L341.2,144.59L341.55,144.87M344.03,146.81L344.05,146.82L344.45,147.13L344.85,147.44L345.25,147.75L345.65,148.05L346.05,148.36L346.41,148.63M348.93,150.52L348.95,150.54L349.35,150.83L349.75,151.12L350.15,151.41L350.55,151.7L350.95,151.99L351.35,152.27L351.36,152.28M353.95,154.08L353.95,154.08L354.35,154.35L354.75,154.62L355.15,154.89L355.55,155.15L355.95,155.41L356.35,155.67L356.45,155.74M359.12,157.41L359.13,157.41L359.53,157.66L359.93,157.9L360.33,158.13L360.73,158.37L361.13,158.6L361.53,158.83L361.7,158.93M364.46,160.45L364.48,160.46L364.88,160.67L365.28,160.88L365.68,161.08L366.08,161.29L366.48,161.49L366.88,161.69L367.13,161.82M369.98,163.16L370,163.17L370.4,163.35L370.8,163.52L371.2,163.7L371.6,163.87L372,164.04L372.4,164.21L372.74,164.35M375.67,165.51L375.68,165.51L376.08,165.66L376.48,165.81L376.88,165.95L377.28,166.1L377.68,166.24L378.08,166.38L378.48,166.52L378.49,166.52M381.49,167.49L381.5,167.5L381.9,167.62L382.3,167.74L382.7,167.86L383.1,167.98L383.5,168.09L383.9,168.2L384.3,168.32L384.37,168.33M387.41,169.13L387.43,169.13L387.83,169.23L388.23,169.33L388.63,169.42L389.03,169.52L389.43,169.61L389.83,169.7L390.23,169.79L390.33,169.81M393.42,170.45L393.43,170.45L393.83,170.53L394.23,170.61L394.63,170.68L395.03,170.76L395.43,170.83L395.83,170.9L396.23,170.97L396.37,171M399.48,171.5L399.5,171.51L399.9,171.57L400.3,171.63L400.7,171.68L401.1,171.74L401.5,171.8L401.9,171.85L402.3,171.91L402.45,171.93M405.57,172.32L405.58,172.32L405.98,172.37L406.38,172.41L406.78,172.46L407.18,172.5L407.58,172.55L407.98,172.59L408.38,172.63L408.56,172.65M411.69,172.95L411.7,172.95L412.1,172.99L412.5,173.03L412.9,173.06L413.3,173.09L413.7,173.13L414.1,173.16L414.5,173.19L414.68,173.21M417.82,173.44L417.83,173.44L418.23,173.46L418.63,173.49L419.03,173.52L419.43,173.54L419.83,173.57L420.23,173.59L420.63,173.62L420.82,173.63M423.96,173.8L423.98,173.8L424.38,173.82L424.78,173.84L425.18,173.86L425.58,173.88L425.98,173.9L426.38,173.92L426.78,173.94L426.96,173.95M430.1,174.08L430.13,174.08L430.53,174.09L430.93,174.11L431.33,174.12L431.73,174.14L432.13,174.15L432.53,174.16L432.93,174.18L433.1,174.18M436.25,174.28L436.28,174.28L436.68,174.29L437.08,174.31L437.48,174.32L437.88,174.33L438.28,174.34L438.68,174.35L439.08,174.36L439.25,174.36M442.4,174.43L442.4,174.43L442.8,174.44L443.2,174.45L443.6,174.46L444,174.47L444.4,174.47L444.8,174.48L445.2,174.49L445.4,174.49M448.55,174.55L448.55,174.55L448.95,174.55L449.35,174.56L449.75,174.57L450.15,174.57L450.55,174.58L450.95,174.58L451.35,174.59L451.55,174.59M454.7,174.63L454.7,174.63L455.1,174.63L455.5,174.64L455.9,174.64L456.3,174.65L456.7,174.65L457.1,174.66L457.5,174.66L457.7,174.66M460.85,174.69L460.85,174.69L461.25,174.69L461.65,174.7L462.05,174.7L462.45,174.7L462.85,174.71L463.25,174.71L463.65,174.71L463.85,174.71M467,174.73L467,174.73L467.4,174.74L467.8,174.74L468.2,174.74L468.6,174.74L469,174.75L469.4,174.75L469.8,174.75L470,174.75" fill="none" stroke="#f00" stroke-width="1.15" stroke-linejoin="round"/>
<path d="M270,174.85L270,174.85L270.4,174.85L270.8,174.85L271.2,174.85L271.35,174.85M273.35,174.77L273.35,174.77L273.75,174.73L274.15,174.69L274.55,174.63L274.84,174.59M276.78,174.14L276.8,174.14L277.2,174.01L277.6,173.87L278,173.72L278.2,173.64M280,172.78L280.03,172.76L280.43,172.54L280.83,172.3L281.23,172.06L281.29,172.01M282.94,170.88L282.95,170.87L283.35,170.57L283.75,170.27L284.13,169.97M285.67,168.69L285.68,168.68L286.08,168.33L286.48,167.98L286.79,167.7M288.27,166.35L288.28,166.34L288.68,165.97L289.08,165.6L289.37,165.32M290.82,163.95L290.83,163.95L291.23,163.57L291.63,163.2L291.91,162.93M293.38,161.57L293.4,161.55L293.8,161.19L294.2,160.83L294.5,160.56M296.01,159.25L296.03,159.23L296.43,158.9L296.83,158.57L297.16,158.29M298.74,157.06L298.75,157.05L299.15,156.76L299.55,156.47L299.95,156.18L299.95,156.18M301.62,155.08L301.63,155.08L302.03,154.83L302.43,154.59L302.83,154.36L302.91,154.31M304.68,153.39L304.7,153.38L305.1,153.19L305.5,153.01L305.9,152.84L306.05,152.78M307.93,152.09L307.95,152.08L308.35,151.96L308.75,151.84L309.15,151.73L309.37,151.68M311.33,151.27L311.35,151.27L311.75,151.2L312.15,151.15L312.55,151.1L312.82,151.07M314.81,150.95L314.83,150.95L315.23,150.95L315.63,150.95L316.03,150.96L316.31,150.97M318.31,151.11L318.33,151.12L318.73,151.16L319.13,151.21L319.53,151.27L319.79,151.31M321.76,151.66L321.78,151.67L322.18,151.75L322.58,151.84L322.98,151.93L323.22,151.99M325.16,152.51L325.18,152.51L325.58,152.63L325.98,152.75L326.38,152.87L326.59,152.94M328.49,153.57L328.5,153.57L328.9,153.71L329.3,153.85L329.7,153.99L329.91,154.07M331.78,154.77L331.8,154.78L332.2,154.93L332.6,155.09L333,155.24L333.18,155.31M335.03,156.06L335.05,156.07L335.45,156.23L335.85,156.4L336.25,156.56L336.42,156.63M338.27,157.4L338.28,157.4L338.68,157.57L339.08,157.74L339.48,157.91L339.65,157.98M341.49,158.76L341.5,158.76L341.9,158.93L342.3,159.1L342.7,159.27L342.87,159.34M344.72,160.11L344.73,160.11L345.13,160.27L345.53,160.44L345.93,160.6L346.11,160.68M347.96,161.43L347.98,161.43L348.38,161.59L348.78,161.75L349.18,161.91L349.36,161.98M351.22,162.7L351.23,162.7L351.63,162.86L352.03,163.01L352.43,163.16L352.62,163.23M354.5,163.92L354.53,163.93L354.93,164.07L355.33,164.21L355.73,164.36L355.92,164.42M357.81,165.07L357.83,165.08L358.23,165.21L358.63,165.34L359.03,165.47L359.23,165.54M361.14,166.15L361.15,166.15L361.55,166.27L361.95,166.4L362.35,166.52L362.57,166.58M364.49,167.14L364.5,167.15L364.9,167.26L365.3,167.37L365.7,167.48L365.94,167.55M367.87,168.06L367.88,168.06L368.28,168.16L368.68,168.26L369.08,168.36L369.33,168.43M371.27,168.89L371.28,168.89L371.68,168.98L372.08,169.08L372.48,169.17L372.73,169.22M374.69,169.64L374.7,169.65L375.1,169.73L375.5,169.81L375.9,169.89L376.16,169.94M378.12,170.32L378.13,170.32L378.53,170.39L378.93,170.47L379.33,170.54L379.6,170.59M381.57,170.92L381.58,170.92L381.98,170.99L382.38,171.05L382.78,171.12L383.05,171.16M385.03,171.46L385.05,171.46L385.45,171.52L385.85,171.57L386.25,171.63L386.52,171.66M388.5,171.93L388.5,171.93L388.9,171.98L389.3,172.03L389.7,172.08L389.99,172.11M391.97,172.34L391.98,172.34L392.38,172.38L392.78,172.43L393.18,172.47L393.47,172.5M395.46,172.7L395.48,172.7L395.88,172.74L396.28,172.78L396.68,172.81L396.95,172.84M398.94,173.01L398.95,173.01L399.35,173.05L399.75,173.08L400.15,173.11L400.44,173.13M402.43,173.28L402.45,173.28L402.85,173.31L403.25,173.34L403.65,173.37L403.93,173.39M405.92,173.52L405.93,173.52L406.33,173.54L406.73,173.57L407.13,173.59L407.42,173.61M409.42,173.72L409.43,173.72L409.83,173.74L410.23,173.76L410.63,173.78L410.91,173.8M412.91,173.89L412.93,173.89L413.33,173.91L413.73,173.93L414.13,173.95L414.41,173.96M416.41,174.04L416.43,174.04L416.83,174.06L417.23,174.07L417.63,174.09L417.91,174.1M419.91,174.17L419.93,174.17L420.33,174.18L420.73,174.19L421.13,174.2L421.41,174.21M423.41,174.27L423.43,174.27L423.83,174.28L424.23,174.3L424.63,174.31L424.9,174.31M426.9,174.36L426.93,174.36L427.33,174.37L427.73,174.38L428.13,174.39L428.4,174.4M430.4,174.44L430.43,174.44L430.83,174.45L431.23,174.46L431.63,174.47L431.9,174.47M433.9,174.51L433.93,174.51L434.33,174.51L434.73,174.52L435.13,174.53L435.4,174.53M437.4,174.56L437.43,174.56L437.83,174.57L438.23,174.57L438.63,174.58L438.9,174.58M440.9,174.61L440.93,174.61L441.33,174.61L441.73,174.62L442.13,174.62L442.4,174.63M444.4,174.65L444.43,174.65L444.83,174.65L445.23,174.66L445.63,174.66L445.9,174.66M447.9,174.68L447.93,174.68L448.33,174.69L448.73,174.69L449.13,174.69L449.4,174.69M451.4,174.71L451.43,174.71L451.83,174.71L452.23,174.72L452.63,174.72L452.9,174.72M454.9,174.73L454.93,174.73L455.33,174.74L455.73,174.74L456.13,174.74L456.4,174.74M458.4,174.75L458.43,174.75L458.83,174.75L459.23,174.76L459.63,174.76L459.9,174.76M461.9,174.77L461.93,174.77L462.33,174.77L462.73,174.77L463.13,174.77L463.4,174.78M465.4,174.78L465.43,174.78L465.83,174.78L466.23,174.79L466.63,174.79L466.9,174.79M468.9,174.79L468.93,174.79L469.33,174.8L469.73,174.8L470,174.8" fill="none" stroke="#f00" stroke-width="1.15" stroke-linejoin="round"/>
<path d="M270,174.85L270.8,174.85L271.6,174.83L272.4,174.78L273.2,174.68L274,174.52L274.8,174.27L275.6,173.92L276.4,173.48L277.2,172.92L278,172.25L278.8,171.47L279.6,170.58L280.4,169.58L281.2,168.48L282,167.27L282.8,165.98L283.6,164.6L284.4,163.14L285.2,161.62L286,160.04L286.8,158.42L287.6,156.75L288.4,155.05L289.2,153.33L290,151.6L290.8,149.86L291.6,148.13L292.4,146.41L293.2,144.71L294,143.03L294.8,141.39L295.6,139.78L296.4,138.22L297.2,136.7L298,135.24L298.8,133.83L299.6,132.48L300.4,131.2L301.2,129.97L302,128.82L302.8,127.73L303.6,126.71L304.4,125.77L305.2,124.89L306,124.09L306.8,123.35L307.6,122.69L308.4,122.1L309.2,121.58L310,121.12L310.8,120.74L311.6,120.42L312.4,120.16L313.2,119.97L314,119.84L314.8,119.77L315.6,119.75L316.4,119.79L317.2,119.89L318,120.03L318.8,120.23L319.6,120.47L320.4,120.76L321.2,121.09L322,121.46L322.8,121.87L323.6,122.31L324.4,122.79L325.2,123.3L326,123.84L326.8,124.41L327.6,125L328.4,125.62L329.2,126.26L330,126.92L330.8,127.6L331.6,128.29L332.4,129L333.2,129.72L334,130.45L334.8,131.19L335.6,131.94L336.4,132.7L337.2,133.47L338,134.24L338.8,135.01L339.6,135.78L340.4,136.56L341.2,137.33L342,138.11L342.8,138.88L343.6,139.65L344.4,140.42L345.2,141.18L346,141.93L346.8,142.68L347.6,143.43L348.4,144.17L349.2,144.9L350,145.62L350.8,146.33L351.6,147.04L352.4,147.73L353.2,148.42L354,149.1L354.8,149.76L355.6,150.42L356.4,151.06L357.2,151.7L358,152.32L358.8,152.93L359.6,153.53L360.4,154.12L361.2,154.7L362,155.27L362.8,155.82L363.6,156.37L364.4,156.9L365.2,157.42L366,157.93L366.8,158.43L367.6,158.91L368.4,159.39L369.2,159.85L370,160.31L370.8,160.75L371.6,161.18L372.4,161.6L373.2,162.01L374,162.41L374.8,162.8L375.6,163.18L376.4,163.55L377.2,163.91L378,164.26L378.8,164.6L379.6,164.93L380.4,165.26L381.2,165.57L382,165.87L382.8,166.17L383.6,166.46L384.4,166.74L385.2,167.01L386,167.27L386.8,167.52L387.6,167.77L388.4,168.01L389.2,168.24L390,168.47L390.8,168.69L391.6,168.9L392.4,169.11L393.2,169.31L394,169.5L394.8,169.69L395.6,169.87L396.4,170.04L397.2,170.21L398,170.38L398.8,170.54L399.6,170.69L400.4,170.84L401.2,170.98L402,171.12L402.8,171.26L403.6,171.39L404.4,171.51L405.2,171.63L406,171.75L406.8,171.86L407.6,171.97L408.4,172.08L409.2,172.18L410,172.28L410.8,172.37L411.6,172.47L412.4,172.55L413.2,172.64L414,172.72L414.8,172.8L415.6,172.88L416.4,172.95L417.2,173.03L418,173.09L418.8,173.16L419.6,173.23L420.4,173.29L421.2,173.35L422,173.4L422.8,173.46L423.6,173.51L424.4,173.56L425.2,173.61L426,173.66L426.8,173.71L427.6,173.75L428.4,173.79L429.2,173.84L430,173.87L430.8,173.91L431.6,173.95L432.4,173.98L433.2,174.02L434,174.05L434.8,174.08L435.6,174.11L436.4,174.14L437.2,174.17L438,174.2L438.8,174.22L439.6,174.25L440.4,174.27L441.2,174.29L442,174.32L442.8,174.34L443.6,174.36L444.4,174.38L445.2,174.4L446,174.42L446.8,174.43L447.6,174.45L448.4,174.47L449.2,174.48L450,174.5L450.8,174.51L451.6,174.52L452.4,174.54L453.2,174.55L454,174.56L454.8,174.57L455.6,174.59L456.4,174.6L457.2,174.61L458,174.62L458.8,174.63L459.6,174.64L460.4,174.64L461.2,174.65L462,174.66L462.8,174.67L463.6,174.68L464.4,174.68L465.2,174.69L466,174.7L466.8,174.7L467.6,174.71L468.4,174.72L469.2,174.72L470,174.73" fill="none" stroke="#00f" stroke-width="1.4" stroke-linejoin="round"/>
<path d="M271.1,174.85L271.1,174.85L271.5,174.84L271.9,174.83L272.3,174.8L272.7,174.77L273.1,174.73L273.5,174.67L273.9,174.6L274.3,174.51L274.7,174.4L275.1,174.28L275.5,174.13L275.9,173.97L275.98,173.93M281.26,169.59L281.28,169.58L281.68,169.09L282.08,168.59L282.48,168.07L282.88,167.53L283.28,166.98L283.68,166.41L284.08,165.82L284.24,165.57M287.86,159.7L287.88,159.67L288.28,158.98L288.68,158.28L289.08,157.58L289.48,156.88L289.88,156.18L290.28,155.48L290.34,155.36M293.78,149.38L293.8,149.35L294.2,148.68L294.6,148.02L295,147.36L295.4,146.71L295.8,146.06L296.2,145.43L296.4,145.12M300.37,139.48L300.38,139.47L300.78,138.97L301.18,138.48L301.58,138.01L301.98,137.55L302.38,137.1L302.78,136.67L303.18,136.25L303.58,135.85L303.68,135.74M306.49,133.34L306.5,133.33L306.9,133.05L307.3,132.78L307.7,132.52L308.1,132.28L308.5,132.05L308.9,131.84L309.3,131.64L309.7,131.46L310.1,131.29L310.5,131.13L310.88,130.99M317.82,130.47L317.83,130.47L318.23,130.54L318.63,130.62L319.03,130.71L319.43,130.81L319.83,130.92L320.23,131.04L320.63,131.17L321.03,131.31L321.43,131.45L321.83,131.61L322.23,131.77L322.59,131.92M328.75,135.3L328.75,135.3L329.15,135.56L329.55,135.83L329.95,136.1L330.35,136.37L330.75,136.65L331.15,136.93L331.55,137.21L331.95,137.5L332.35,137.79L332.75,138.08L332.85,138.15M338.44,142.42L338.45,142.43L338.85,142.75L339.25,143.06L339.65,143.37L340.05,143.69L340.45,144L340.85,144.32L341.25,144.63L341.65,144.94L342.05,145.26L342.37,145.51M347.95,149.79L347.95,149.79L348.35,150.09L348.75,150.39L349.15,150.68L349.55,150.98L349.95,151.27L350.35,151.56L350.75,151.85L351.15,152.13L351.55,152.42L351.95,152.7L351.99,152.73M357.84,156.62L357.85,156.63L358.25,156.88L358.65,157.12L359.05,157.37L359.45,157.61L359.85,157.85L360.25,158.09L360.65,158.32L361.05,158.56L361.45,158.79L361.85,159.02L362.14,159.18M368.38,162.42L368.4,162.43L368.8,162.62L369.2,162.8L369.6,162.99L370,163.17L370.4,163.35L370.8,163.52L371.2,163.7L371.6,163.87L372,164.04L372.4,164.21L372.8,164.38L372.95,164.44M379.54,166.88L379.55,166.88L379.95,167.01L380.35,167.14L380.75,167.26L381.15,167.39L381.55,167.51L381.95,167.64L382.35,167.76L382.75,167.87L383.15,167.99L383.55,168.11L383.95,168.22L384.33,168.32M391.16,169.99L391.18,170L391.58,170.08L391.98,170.16L392.38,170.25L392.78,170.33L393.18,170.41L393.58,170.48L393.98,170.56L394.38,170.64L394.78,170.71L395.18,170.78L395.58,170.86L395.98,170.93L396.06,170.94M403.01,172L403.03,172L403.43,172.06L403.83,172.11L404.23,172.16L404.63,172.21L405.03,172.26L405.43,172.3L405.83,172.35L406.23,172.4L406.63,172.44L407.03,172.49L407.43,172.53L407.83,172.57L407.98,172.59M414.98,173.23L415,173.23L415.4,173.26L415.8,173.29L416.2,173.32L416.6,173.35L417,173.38L417.4,173.41L417.8,173.44L418.2,173.46L418.6,173.49L419,173.51L419.4,173.54L419.8,173.57L419.97,173.58M426.99,173.95L427,173.95L427.4,173.97L427.8,173.98L428.2,174L428.6,174.02L429,174.03L429.4,174.05L429.8,174.07L430.2,174.08L430.6,174.1L431,174.11L431.4,174.13L431.8,174.14L431.98,174.15M439.01,174.36L439.03,174.36L439.43,174.37L439.83,174.38L440.23,174.39L440.63,174.4L441.03,174.4L441.43,174.41L441.83,174.42L442.23,174.43L442.63,174.44L443.03,174.45L443.43,174.46L443.83,174.46L444.01,174.47M451.04,174.58L451.05,174.58L451.45,174.59L451.85,174.59L452.25,174.6L452.65,174.61L453.05,174.61L453.45,174.62L453.85,174.62L454.25,174.62L454.65,174.63L455.05,174.63L455.45,174.64L455.85,174.64L456.04,174.64M463.07,174.71L463.08,174.71L463.48,174.71L463.88,174.71L464.28,174.72L464.68,174.72L465.08,174.72L465.48,174.73L465.88,174.73L466.28,174.73L466.68,174.73L467.08,174.74L467.48,174.74L467.88,174.74L468.07,174.74" fill="none" stroke="#00f" stroke-width="1.4" stroke-linejoin="round"/>
<path d="M272.5,174.8L272.5,174.8L272.9,174.78L273.3,174.74L273.7,174.69L274.1,174.63L274.5,174.56L274.9,174.47L275.07,174.43M278.72,172.85L278.73,172.85L279.13,172.59L279.53,172.31L279.93,172.02L280.33,171.71L280.73,171.38L280.82,171.31M283.69,168.53L283.7,168.52L284.1,168.08L284.5,167.63L284.9,167.17L285.3,166.7L285.41,166.58M287.92,163.46L287.93,163.45L288.33,162.93L288.73,162.42L289.13,161.89L289.5,161.4M291.93,158.22L291.95,158.19L292.35,157.67L292.75,157.15L293.15,156.64L293.52,156.17M296.05,153.07L296.05,153.06L296.45,152.59L296.85,152.13L297.25,151.68L297.65,151.23L297.76,151.11M300.56,148.26L300.58,148.25L300.98,147.88L301.38,147.52L301.78,147.17L302.18,146.83L302.52,146.55M305.79,144.25L305.8,144.25L306.2,144.02L306.6,143.79L307,143.59L307.4,143.39L307.8,143.2L308.1,143.06M311.91,141.87L311.93,141.87L312.33,141.8L312.73,141.73L313.13,141.68L313.53,141.64L313.93,141.6L314.33,141.58L314.49,141.57M317.91,141.72L317.93,141.72L318.33,141.78L318.73,141.84L319.13,141.91L319.53,141.99L319.93,142.08L320.33,142.17L320.47,142.2M323.75,143.19L323.78,143.2L324.18,143.34L324.58,143.5L324.98,143.65L325.38,143.81L325.78,143.98L326.17,144.14M329.28,145.58L329.3,145.59L329.7,145.79L330.1,145.99L330.5,146.2L330.9,146.41L331.3,146.62L331.59,146.77M334.6,148.42L334.6,148.42L335,148.65L335.4,148.88L335.8,149.11L336.2,149.34L336.6,149.57L336.86,149.72M339.82,151.45L339.83,151.45L340.23,151.69L340.63,151.92L341.03,152.16L341.43,152.39L341.83,152.62L342.06,152.76M345.03,154.48L345.05,154.5L345.45,154.73L345.85,154.96L346.25,155.18L346.65,155.41L347.05,155.64L347.29,155.77M350.29,157.43L350.3,157.43L350.7,157.65L351.1,157.86L351.5,158.07L351.9,158.28L352.3,158.49L352.59,158.64M355.65,160.19L355.65,160.19L356.05,160.39L356.45,160.58L356.85,160.77L357.25,160.96L357.65,161.15L357.99,161.31M361.12,162.72L361.13,162.72L361.53,162.89L361.93,163.06L362.33,163.23L362.73,163.4L363.13,163.56L363.52,163.72M366.72,164.97L366.73,164.97L367.13,165.12L367.53,165.26L367.93,165.41L368.33,165.55L368.73,165.69L369.13,165.83L369.16,165.84M372.42,166.91L372.43,166.91L372.83,167.04L373.23,167.16L373.63,167.28L374.03,167.4L374.43,167.52L374.83,167.64L374.91,167.66M378.22,168.56L378.23,168.56L378.63,168.67L379.03,168.77L379.43,168.87L379.83,168.96L380.23,169.06L380.63,169.16L380.75,169.19M384.1,169.93L384.1,169.93L384.5,170.01L384.9,170.09L385.3,170.17L385.7,170.25L386.1,170.33L386.5,170.41L386.65,170.44M390.02,171.04L390.03,171.04L390.43,171.1L390.83,171.17L391.23,171.23L391.63,171.3L392.03,171.36L392.43,171.42L392.59,171.44M395.99,171.92L396,171.92L396.4,171.98L396.8,172.03L397.2,172.08L397.6,172.13L398,172.18L398.4,172.22L398.57,172.24M401.98,172.62L402,172.62L402.4,172.66L402.8,172.7L403.2,172.74L403.6,172.78L404,172.82L404.4,172.86L404.56,172.87M407.98,173.16L408,173.16L408.4,173.2L408.8,173.23L409.2,173.26L409.6,173.29L410,173.32L410.4,173.34L410.57,173.36M414,173.58L414,173.58L414.4,173.61L414.8,173.63L415.2,173.65L415.6,173.68L416,173.7L416.4,173.72L416.59,173.73M420.02,173.9L420.03,173.9L420.43,173.92L420.83,173.94L421.23,173.96L421.63,173.97L422.03,173.99L422.43,174.01L422.62,174.01M426.04,174.14L426.05,174.14L426.45,174.16L426.85,174.17L427.25,174.18L427.65,174.2L428.05,174.21L428.45,174.22L428.64,174.23M432.07,174.33L432.08,174.33L432.48,174.34L432.88,174.35L433.28,174.36L433.68,174.37L434.08,174.38L434.48,174.39L434.67,174.39M438.1,174.46L438.1,174.46L438.5,174.47L438.9,174.48L439.3,174.49L439.7,174.49L440.1,174.5L440.5,174.51L440.7,174.51M444.13,174.57L444.15,174.57L444.55,174.57L444.95,174.58L445.35,174.58L445.75,174.59L446.15,174.59L446.55,174.6L446.73,174.6M450.16,174.64L450.18,174.64L450.58,174.65L450.98,174.65L451.38,174.65L451.78,174.66L452.18,174.66L452.58,174.67L452.76,174.67M456.19,174.7L456.2,174.7L456.6,174.7L457,174.7L457.4,174.71L457.8,174.71L458.2,174.71L458.6,174.72L458.79,174.72M462.22,174.74L462.23,174.74L462.63,174.74L463.03,174.74L463.43,174.75L463.83,174.75L464.23,174.75L464.63,174.75L464.82,174.75M468.25,174.77L468.25,174.77L468.65,174.77L469.05,174.77L469.45,174.77L469.85,174.78L470,174.78" fill="none" stroke="#00f" stroke-width="1.5" stroke-linejoin="round"/>
<line x1="444.4" y1="60.20" x2="465.8" y2="60.20" stroke="#000" stroke-width="1.3" stroke-dasharray="12.6 4.1 1.8 4.1"/>
<line x1="444.4" y1="70.60" x2="465.8" y2="70.60" stroke="#f00" stroke-width="1.15"/>
<line x1="444.4" y1="81.00" x2="465.8" y2="81.00" stroke="#f00" stroke-width="1.15" stroke-dasharray="3.0 3.9"/>
<line x1="444.4" y1="91.40" x2="465.8" y2="91.40" stroke="#f00" stroke-width="1.0" stroke-dasharray="1.35 2.15"/>
<line x1="444.4" y1="101.80" x2="465.8" y2="101.80" stroke="#00f" stroke-width="1.4"/>
<line x1="444.4" y1="112.20" x2="465.8" y2="112.20" stroke="#00f" stroke-width="1.4" stroke-dasharray="5.2 7.0"/>
<line x1="444.4" y1="122.60" x2="465.8" y2="122.60" stroke="#00f" stroke-width="1.5" stroke-dasharray="2.6 3.5"/></g>
<g><line x1="89.95" y1="192.5" x2="89.95" y2="315.0" stroke="#000" stroke-width="0.72" stroke-dasharray="0.72 1.42" opacity="0.46"/>
<line x1="129.80" y1="192.5" x2="129.80" y2="315.0" stroke="#000" stroke-width="0.72" stroke-dasharray="0.72 1.42" opacity="0.46"/>
<line x1="169.40" y1="192.5" x2="169.40" y2="315.0" stroke="#000" stroke-width="0.72" stroke-dasharray="0.72 1.42" opacity="0.46"/>
<line x1="209.40" y1="192.5" x2="209.40" y2="315.0" stroke="#000" stroke-width="0.72" stroke-dasharray="0.72 1.42" opacity="0.46"/>
<line x1="50.0" y1="290.30" x2="250.0" y2="290.30" stroke="#000" stroke-width="0.72" stroke-dasharray="0.72 1.42" opacity="0.58"/>
<line x1="50.0" y1="265.60" x2="250.0" y2="265.60" stroke="#000" stroke-width="0.72" stroke-dasharray="0.72 1.42" opacity="0.58"/>
<line x1="50.0" y1="241.40" x2="250.0" y2="241.40" stroke="#000" stroke-width="0.72" stroke-dasharray="0.72 1.42" opacity="0.58"/>
<line x1="50.0" y1="216.90" x2="250.0" y2="216.90" stroke="#000" stroke-width="0.72" stroke-dasharray="0.72 1.42" opacity="0.58"/>
<rect x="131.0" y="192.5" width="119.00" height="65.10" fill="#fff"/>
<line x1="89.95" y1="315.0" x2="89.95" y2="310.7" stroke="#000" stroke-width="0.8" opacity="0.6"/>
<line x1="89.95" y1="193.4" x2="89.95" y2="194.8" stroke="#000" stroke-width="0.8" opacity="0.35"/>
<line x1="129.80" y1="315.0" x2="129.80" y2="310.7" stroke="#000" stroke-width="0.8" opacity="0.6"/>
<line x1="129.80" y1="193.4" x2="129.80" y2="194.8" stroke="#000" stroke-width="0.8" opacity="0.35"/>
<line x1="169.40" y1="315.0" x2="169.40" y2="310.7" stroke="#000" stroke-width="0.8" opacity="0.6"/>
<line x1="169.40" y1="193.4" x2="169.40" y2="194.8" stroke="#000" stroke-width="0.8" opacity="0.35"/>
<line x1="209.40" y1="315.0" x2="209.40" y2="310.7" stroke="#000" stroke-width="0.8" opacity="0.6"/>
<line x1="209.40" y1="193.4" x2="209.40" y2="194.8" stroke="#000" stroke-width="0.8" opacity="0.35"/>
<line x1="50.0" y1="290.30" x2="54.6" y2="290.30" stroke="#000" stroke-width="0.8" opacity="0.9"/>
<line x1="250.0" y1="290.30" x2="245.4" y2="290.30" stroke="#000" stroke-width="0.8" opacity="0.4"/>
<line x1="50.0" y1="265.60" x2="54.6" y2="265.60" stroke="#000" stroke-width="0.8" opacity="0.9"/>
<line x1="250.0" y1="265.60" x2="245.4" y2="265.60" stroke="#000" stroke-width="0.8" opacity="0.4"/>
<line x1="50.0" y1="241.40" x2="54.6" y2="241.40" stroke="#000" stroke-width="0.8" opacity="0.9"/>
<line x1="50.0" y1="216.90" x2="54.6" y2="216.90" stroke="#000" stroke-width="0.8" opacity="0.9"/>
<path d="M50.0,192.15V315.0H250.0V192.15" fill="none" stroke="#000" stroke-width="0.9"/>
<line x1="49.5" y1="192.55" x2="250.5" y2="192.55" stroke="#000" stroke-width="0.8"/>
<path d="M50,314.85L50.8,314.85L51.6,314.81L52.4,314.71L53.2,314.49L54,314.13L54.8,313.58L55.6,312.84L56.4,311.87L57.2,310.67L58,309.23L58.8,307.54L59.6,305.62L60.4,303.47L61.2,301.1L62,298.52L62.8,295.74L63.6,292.79L64.4,289.68L65.2,286.43L66,283.07L66.8,279.6L67.6,276.06L68.4,272.46L69.2,268.81L70,265.15L70.8,261.49L71.6,257.83L72.4,254.21L73.2,250.64L74,247.12L74.8,243.68L75.6,240.33L76.4,237.07L77.2,233.92L78,230.88L78.8,227.97L79.6,225.18L80.4,222.54L81.2,220.03L82,217.67L82.8,215.45L83.6,213.39L84.4,211.48L85.2,209.72L86,208.11L86.8,206.66L87.6,205.35L88.4,204.2L89.2,203.19L90,202.33L90.8,201.62L91.6,201.04L92.4,200.6L93.2,200.29L94,200.11L94.8,200.05L95.6,200.11L96.4,200.29L97.2,200.58L98,200.98L98.8,201.47L99.6,202.07L100.4,202.75L101.2,203.52L102,204.38L102.8,205.31L103.6,206.32L104.4,207.39L105.2,208.53L106,209.73L106.8,210.98L107.6,212.28L108.4,213.63L109.2,215.03L110,216.46L110.8,217.92L111.6,219.42L112.4,220.95L113.2,222.5L114,224.07L114.8,225.65L115.6,227.26L116.4,228.87L117.2,230.5L118,232.13L118.8,233.77L119.6,235.4L120.4,237.04L121.2,238.68L122,240.31L122.8,241.93L123.6,243.55L124.4,245.15L125.2,246.75L126,248.33L126.8,249.9L127.6,251.45L128.4,252.99L129.2,254.51L130,256.01L130.8,257.49L131.6,258.95L132.4,260.39L133.2,261.81L134,263.21L134.8,264.58L135.6,265.94L136.4,267.26L137.2,268.57L138,269.85L138.8,271.11L139.6,272.34L140.4,273.55L141.2,274.73L142,275.89L142.8,277.02L143.6,278.13L144.4,279.22L145.2,280.28L146,281.31L146.8,282.33L147.6,283.31L148.4,284.28L149.2,285.22L150,286.14L150.8,287.03L151.6,287.91L152.4,288.75L153.2,289.58L154,290.39L154.8,291.17L155.6,291.94L156.4,292.68L157.2,293.4L158,294.1L158.8,294.79L159.6,295.45L160.4,296.1L161.2,296.72L162,297.33L162.8,297.92L163.6,298.49L164.4,299.05L165.2,299.59L166,300.11L166.8,300.62L167.6,301.11L168.4,301.58L169.2,302.05L170,302.49L170.8,302.93L171.6,303.35L172.4,303.75L173.2,304.15L174,304.53L174.8,304.89L175.6,305.25L176.4,305.6L177.2,305.93L178,306.25L178.8,306.56L179.6,306.86L180.4,307.16L181.2,307.44L182,307.71L182.8,307.97L183.6,308.22L184.4,308.47L185.2,308.71L186,308.94L186.8,309.16L187.6,309.37L188.4,309.57L189.2,309.77L190,309.96L190.8,310.15L191.6,310.33L192.4,310.5L193.2,310.66L194,310.82L194.8,310.98L195.6,311.12L196.4,311.27L197.2,311.41L198,311.54L198.8,311.67L199.6,311.79L200.4,311.91L201.2,312.02L202,312.13L202.8,312.24L203.6,312.34L204.4,312.44L205.2,312.53L206,312.62L206.8,312.71L207.6,312.8L208.4,312.88L209.2,312.96L210,313.03L210.8,313.1L211.6,313.17L212.4,313.24L213.2,313.3L214,313.37L214.8,313.43L215.6,313.48L216.4,313.54L217.2,313.59L218,313.64L218.8,313.69L219.6,313.74L220.4,313.78L221.2,313.83L222,313.87L222.8,313.91L223.6,313.95L224.4,313.98L225.2,314.02L226,314.05L226.8,314.08L227.6,314.12L228.4,314.15L229.2,314.17L230,314.2L230.8,314.23L231.6,314.26L232.4,314.28L233.2,314.3L234,314.33L234.8,314.35L235.6,314.37L236.4,314.39L237.2,314.41L238,314.43L238.8,314.44L239.6,314.46L240.4,314.48L241.2,314.49L242,314.51L242.8,314.52L243.6,314.54L244.4,314.55L245.2,314.56L246,314.57L246.8,314.59L247.6,314.6L248.4,314.61L249.2,314.62L250,314.63" fill="none" stroke="#00f" stroke-width="1.6" stroke-linejoin="round"/>
<line x1="224.4" y1="200.20" x2="245.8" y2="200.20" stroke="#000" stroke-width="1.3" stroke-dasharray="12.6 4.1 1.8 4.1"/>
<line x1="224.4" y1="210.60" x2="245.8" y2="210.60" stroke="#f00" stroke-width="1.15"/>
<line x1="224.4" y1="221.00" x2="245.8" y2="221.00" stroke="#f00" stroke-width="1.15" stroke-dasharray="3.0 3.9"/>
<line x1="224.4" y1="231.40" x2="245.8" y2="231.40" stroke="#00f" stroke-width="1.4"/>
<line x1="224.4" y1="241.80" x2="245.8" y2="241.80" stroke="#00f" stroke-width="1.4" stroke-dasharray="5.2 7.0"/>
<line x1="224.4" y1="252.20" x2="245.8" y2="252.20" stroke="#00f" stroke-width="1.5" stroke-dasharray="2.6 3.5"/></g>
<g><line x1="309.95" y1="192.5" x2="309.95" y2="315.0" stroke="#000" stroke-width="0.72" stroke-dasharray="0.72 1.42" opacity="0.46"/>
<line x1="349.80" y1="192.5" x2="349.80" y2="315.0" stroke="#000" stroke-width="0.72" stroke-dasharray="0.72 1.42" opacity="0.46"/>
<line x1="389.40" y1="192.5" x2="389.40" y2="315.0" stroke="#000" stroke-width="0.72" stroke-dasharray="0.72 1.42" opacity="0.46"/>
<line x1="429.40" y1="192.5" x2="429.40" y2="315.0" stroke="#000" stroke-width="0.72" stroke-dasharray="0.72 1.42" opacity="0.46"/>
<line x1="270.0" y1="290.30" x2="470.0" y2="290.30" stroke="#000" stroke-width="0.72" stroke-dasharray="0.72 1.42" opacity="0.58"/>
<line x1="270.0" y1="265.60" x2="470.0" y2="265.60" stroke="#000" stroke-width="0.72" stroke-dasharray="0.72 1.42" opacity="0.58"/>
<line x1="270.0" y1="241.40" x2="470.0" y2="241.40" stroke="#000" stroke-width="0.72" stroke-dasharray="0.72 1.42" opacity="0.58"/>
<line x1="270.0" y1="216.90" x2="470.0" y2="216.90" stroke="#000" stroke-width="0.72" stroke-dasharray="0.72 1.42" opacity="0.58"/>
<rect x="344.5" y="192.5" width="125.50" height="75.50" fill="#fff"/>
<line x1="309.95" y1="315.0" x2="309.95" y2="310.7" stroke="#000" stroke-width="0.8" opacity="0.6"/>
<line x1="309.95" y1="193.4" x2="309.95" y2="194.8" stroke="#000" stroke-width="0.8" opacity="0.35"/>
<line x1="349.80" y1="315.0" x2="349.80" y2="310.7" stroke="#000" stroke-width="0.8" opacity="0.6"/>
<line x1="349.80" y1="193.4" x2="349.80" y2="194.8" stroke="#000" stroke-width="0.8" opacity="0.35"/>
<line x1="389.40" y1="315.0" x2="389.40" y2="310.7" stroke="#000" stroke-width="0.8" opacity="0.6"/>
<line x1="389.40" y1="193.4" x2="389.40" y2="194.8" stroke="#000" stroke-width="0.8" opacity="0.35"/>
<line x1="429.40" y1="315.0" x2="429.40" y2="310.7" stroke="#000" stroke-width="0.8" opacity="0.6"/>
<line x1="429.40" y1="193.4" x2="429.40" y2="194.8" stroke="#000" stroke-width="0.8" opacity="0.35"/>
<line x1="270.0" y1="290.30" x2="274.6" y2="290.30" stroke="#000" stroke-width="0.8" opacity="0.9"/>
<line x1="470.0" y1="290.30" x2="465.4" y2="290.30" stroke="#000" stroke-width="0.8" opacity="0.4"/>
<line x1="270.0" y1="265.60" x2="274.6" y2="265.60" stroke="#000" stroke-width="0.8" opacity="0.9"/>
<line x1="470.0" y1="265.60" x2="465.4" y2="265.60" stroke="#000" stroke-width="0.8" opacity="0.7"/>
<line x1="270.0" y1="241.40" x2="274.6" y2="241.40" stroke="#000" stroke-width="0.8" opacity="0.9"/>
<line x1="470.0" y1="241.40" x2="465.4" y2="241.40" stroke="#000" stroke-width="0.8" opacity="0.7"/>
<line x1="270.0" y1="216.90" x2="274.6" y2="216.90" stroke="#000" stroke-width="0.8" opacity="0.9"/>
<line x1="470.0" y1="216.90" x2="465.4" y2="216.90" stroke="#000" stroke-width="0.8" opacity="0.7"/>
<path d="M270.0,192.15V315.0H470.0V192.15" fill="none" stroke="#000" stroke-width="0.9"/>
<line x1="269.5" y1="192.55" x2="470.5" y2="192.55" stroke="#000" stroke-width="0.8"/>
<path d="M270,314.85L270.8,314.85L271.6,314.81L272.4,314.71L273.2,314.49L274,314.13L274.8,313.58L275.6,312.84L276.4,311.87L277.2,310.67L278,309.23L278.8,307.54L279.6,305.62L280.4,303.47L281.2,301.1L282,298.52L282.8,295.74L283.6,292.79L284.4,289.68L285.2,286.43L286,283.07L286.8,279.6L287.6,276.06L288.4,272.46L289.2,268.81L290,265.15L290.8,261.49L291.6,257.83L292.4,254.21L293.2,250.64L294,247.12L294.8,243.68L295.6,240.33L296.4,237.07L297.2,233.92L298,230.88L298.8,227.97L299.6,225.18L300.4,222.54L301.2,220.03L302,217.67L302.8,215.45L303.6,213.39L304.4,211.48L305.2,209.72L306,208.11L306.8,206.66L307.6,205.35L308.4,204.2L309.2,203.19L310,202.33L310.8,201.62L311.6,201.04L312.4,200.6L313.2,200.29L314,200.11L314.8,200.05L315.6,200.11L316.4,200.29L317.2,200.58L318,200.98L318.8,201.47L319.6,202.07L320.4,202.75L321.2,203.52L322,204.38L322.8,205.31L323.6,206.32L324.4,207.39L325.2,208.53L326,209.73L326.8,210.98L327.6,212.28L328.4,213.63L329.2,215.03L330,216.46L330.8,217.92L331.6,219.42L332.4,220.95L333.2,222.5L334,224.07L334.8,225.65L335.6,227.26L336.4,228.87L337.2,230.5L338,232.13L338.8,233.77L339.6,235.4L340.4,237.04L341.2,238.68L342,240.31L342.8,241.93L343.6,243.55L344.4,245.15L345.2,246.75L346,248.33L346.8,249.9L347.6,251.45L348.4,252.99L349.2,254.51L350,256.01L350.8,257.49L351.6,258.95L352.4,260.39L353.2,261.81L354,263.21L354.8,264.58L355.6,265.94L356.4,267.26L357.2,268.57L358,269.85L358.8,271.11L359.6,272.34L360.4,273.55L361.2,274.73L362,275.89L362.8,277.02L363.6,278.13L364.4,279.22L365.2,280.28L366,281.31L366.8,282.33L367.6,283.31L368.4,284.28L369.2,285.22L370,286.14L370.8,287.03L371.6,287.91L372.4,288.75L373.2,289.58L374,290.39L374.8,291.17L375.6,291.94L376.4,292.68L377.2,293.4L378,294.1L378.8,294.79L379.6,295.45L380.4,296.1L381.2,296.72L382,297.33L382.8,297.92L383.6,298.49L384.4,299.05L385.2,299.59L386,300.11L386.8,300.62L387.6,301.11L388.4,301.58L389.2,302.05L390,302.49L390.8,302.93L391.6,303.35L392.4,303.75L393.2,304.15L394,304.53L394.8,304.89L395.6,305.25L396.4,305.6L397.2,305.93L398,306.25L398.8,306.56L399.6,306.86L400.4,307.16L401.2,307.44L402,307.71L402.8,307.97L403.6,308.22L404.4,308.47L405.2,308.71L406,308.94L406.8,309.16L407.6,309.37L408.4,309.57L409.2,309.77L410,309.96L410.8,310.15L411.6,310.33L412.4,310.5L413.2,310.66L414,310.82L414.8,310.98L415.6,311.12L416.4,311.27L417.2,311.41L418,311.54L418.8,311.67L419.6,311.79L420.4,311.91L421.2,312.02L422,312.13L422.8,312.24L423.6,312.34L424.4,312.44L425.2,312.53L426,312.62L426.8,312.71L427.6,312.8L428.4,312.88L429.2,312.96L430,313.03L430.8,313.1L431.6,313.17L432.4,313.24L433.2,313.3L434,313.37L434.8,313.43L435.6,313.48L436.4,313.54L437.2,313.59L438,313.64L438.8,313.69L439.6,313.74L440.4,313.78L441.2,313.83L442,313.87L442.8,313.91L443.6,313.95L444.4,313.98L445.2,314.02L446,314.05L446.8,314.08L447.6,314.12L448.4,314.15L449.2,314.17L450,314.2L450.8,314.23L451.6,314.26L452.4,314.28L453.2,314.3L454,314.33L454.8,314.35L455.6,314.37L456.4,314.39L457.2,314.41L458,314.43L458.8,314.44L459.6,314.46L460.4,314.48L461.2,314.49L462,314.51L462.8,314.52L463.6,314.54L464.4,314.55L465.2,314.56L466,314.57L466.8,314.59L467.6,314.6L468.4,314.61L469.2,314.62L470,314.63" fill="none" stroke="#00f" stroke-width="1.6" stroke-linejoin="round"/>
<line x1="444.4" y1="200.20" x2="465.8" y2="200.20" stroke="#000" stroke-width="1.3" stroke-dasharray="12.6 4.1 1.8 4.1"/>
<line x1="444.4" y1="210.60" x2="465.8" y2="210.60" stroke="#f00" stroke-width="1.15"/>
<line x1="444.4" y1="221.00" x2="465.8" y2="221.00" stroke="#f00" stroke-width="1.15" stroke-dasharray="3.0 3.9"/>
<line x1="444.4" y1="231.40" x2="465.8" y2="231.40" stroke="#f00" stroke-width="1.0" stroke-dasharray="1.35 2.15"/>
<line x1="444.4" y1="241.80" x2="465.8" y2="241.80" stroke="#00f" stroke-width="1.4"/>
<line x1="444.4" y1="252.20" x2="465.8" y2="252.20" stroke="#00f" stroke-width="1.4" stroke-dasharray="5.2 7.0"/>
<line x1="444.4" y1="262.60" x2="465.8" y2="262.60" stroke="#00f" stroke-width="1.5" stroke-dasharray="2.6 3.5"/></g>
</g>
</svg>
</body></html>
